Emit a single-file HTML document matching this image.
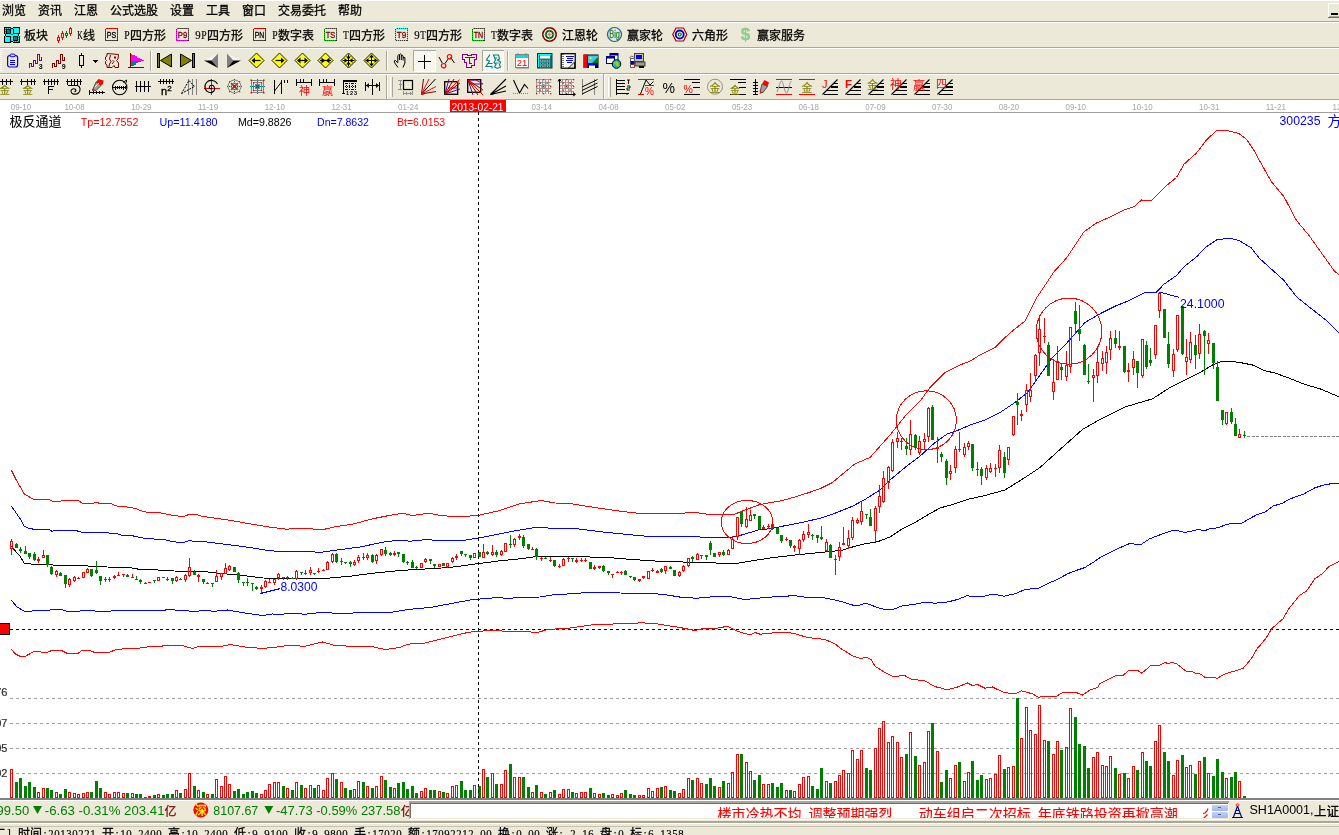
<!DOCTYPE html><html><head><meta charset="utf-8"><title>chart</title><style>html,body{margin:0;padding:0;background:#ECE9D8;overflow:hidden;font-family:"Liberation Sans",sans-serif}svg{display:block;will-change:transform}</style></head><body><svg width="1339" height="835" viewBox="0 0 1339 835" font-family="Liberation Sans, sans-serif"><rect x="0" y="0" width="1339" height="835" fill="#ECE9D8"/><g font-family="Liberation Sans, Noto Sans CJK SC, sans-serif" font-size="12" fill="#000" stroke="#000" stroke-width="0.26"><text x="2" y="14.6" textLength="24" lengthAdjust="spacingAndGlyphs">浏览</text><text x="38" y="14.6" textLength="24" lengthAdjust="spacingAndGlyphs">资讯</text><text x="74" y="14.6" textLength="24" lengthAdjust="spacingAndGlyphs">江恩</text><text x="110" y="14.6" textLength="48" lengthAdjust="spacingAndGlyphs">公式选股</text><text x="170" y="14.6" textLength="24" lengthAdjust="spacingAndGlyphs">设置</text><text x="206" y="14.6" textLength="24" lengthAdjust="spacingAndGlyphs">工具</text><text x="242" y="14.6" textLength="24" lengthAdjust="spacingAndGlyphs">窗口</text><text x="278" y="14.6" textLength="48" lengthAdjust="spacingAndGlyphs">交易委托</text><text x="338" y="14.6" textLength="24" lengthAdjust="spacingAndGlyphs">帮助</text></g><rect x="0" y="21" width="1339" height="1" fill="#ACA899"/><rect x="0" y="22" width="1339" height="1" fill="#fff"/><rect x="0" y="47" width="1339" height="1" fill="#ACA899"/><rect x="0" y="48" width="1339" height="1" fill="#fff"/><rect x="0" y="73" width="1339" height="1" fill="#ACA899"/><rect x="0" y="74" width="1339" height="1" fill="#fff"/><rect x="0" y="99" width="1339" height="1" fill="#ACA899"/><rect x="0" y="0" width="1339" height="1" fill="#fff"/><rect x="1328" y="3" width="1" height="14" fill="#fff"/><rect x="1328" y="3" width="11" height="1" fill="#fff"/><rect x="1329" y="16" width="10" height="1" fill="#ACA899"/><rect x="1328" y="17" width="11" height="1" fill="#716F64"/><rect x="1331" y="13" width="7" height="2" fill="#000"/><g transform="translate(4,27)" ><g shape-rendering="crispEdges"><path d="M0.5 0.5h6l1.500 1.500 1.500-1.500h6v6l-1.500 1.500 1.500 1.500v6h-6l-1.500-1.500-1.500 1.500h-6v-6l1.500-1.500-1.500-1.500z" fill="#00FFFF" stroke="#000" stroke-width="1"/><rect x="2.500" y="2.500" width="4" height="4" fill="#008080" stroke="#000"/><rect x="9.500" y="9.500" width="4" height="4" fill="#008080" stroke="#000"/><path d="M9.500 6.500v-5M9.500 6.500h5M6.500 9.500h-5M6.500 9.500v5" stroke="#000" fill="none"/><path d="M1.500 1.500h6M1.500 1.500v6M14.500 14.500h-6M14.500 14.500v-6M7.500 7.500l2 2M8.500 7.500l-2 2" stroke="#008080" stroke-dasharray="1 1" fill="none"/></g></g><text x="24" y="39.6" font-size="12" fill="#000" stroke="#000" stroke-width="0.26" font-family="Liberation Sans, Noto Sans CJK SC, sans-serif" textLength="24" lengthAdjust="spacingAndGlyphs">板块</text><g transform="translate(56,26)" ><g shape-rendering="crispEdges"><path d="M2.5 9V11M2.5 15V17" stroke="#f00" stroke-width="1"/><rect x="1.5" y="11.5" width="2" height="3" fill="none" stroke="#f00"/><path d="M6.5 5V7M6.5 12V14" stroke="#f00" stroke-width="1"/><rect x="5.5" y="7.5" width="2" height="4" fill="none" stroke="#f00"/><path d="M10.5 5V7M10.5 10V12" stroke="#008000" stroke-width="1"/><rect x="9.500" y="7.5" width="2" height="2" fill="none" stroke="#008000"/><path d="M14.5 1V2M14.5 8V10" stroke="#f00" stroke-width="1"/><rect x="13.5" y="2.5" width="2" height="5" fill="none" stroke="#f00"/></g></g><text x="80.00" y="38.80" font-size="11.5" text-anchor="middle" fill="#000" font-family="Liberation Serif" stroke="#000" stroke-width="0.18" textLength="5.4" lengthAdjust="spacingAndGlyphs">K</text><text x="83" y="39.6" font-size="12" fill="#000" stroke="#000" stroke-width="0.26" font-family="Liberation Sans, Noto Sans CJK SC, sans-serif">线</text><g transform="translate(105,28)" ><rect x="0.5" y="0.5" width="12" height="12" fill="#ECE9D8" stroke="#f00" stroke-dasharray="1 1" shape-rendering="crispEdges"/><rect x="0.5" y="0.5" width="12" height="12" fill="none" stroke="#000" stroke-dasharray="1 1" stroke-dashoffset="1" shape-rendering="crispEdges" opacity="0.75"/><text x="6.500" y="10" font-family="Liberation Sans" font-size="8.500" text-anchor="middle" fill="#000" stroke="#000" stroke-width="0.3" textLength="9.500" lengthAdjust="spacingAndGlyphs">PS</text></g><text x="127.00" y="38.80" font-size="11.5" text-anchor="middle" fill="#000" font-family="Liberation Serif" stroke="#000" stroke-width="0.18" textLength="5.4" lengthAdjust="spacingAndGlyphs">P</text><text x="130" y="39.6" font-size="12" fill="#000" stroke="#000" stroke-width="0.26" font-family="Liberation Sans, Noto Sans CJK SC, sans-serif" textLength="36" lengthAdjust="spacingAndGlyphs">四方形</text><g transform="translate(176,28)" ><rect x="0.5" y="0.5" width="12" height="12" fill="#ECE9D8" stroke="#f0f" stroke-dasharray="1 1" shape-rendering="crispEdges"/><rect x="0.5" y="0.5" width="12" height="12" fill="none" stroke="#000" stroke-dasharray="1 1" stroke-dashoffset="1" shape-rendering="crispEdges" opacity="0.75"/><text x="6.500" y="10" font-family="Liberation Sans" font-size="8.500" text-anchor="middle" fill="#800000" stroke="#800000" stroke-width="0.3" textLength="9.500" lengthAdjust="spacingAndGlyphs">P9</text></g><text x="198.00" y="38.80" font-size="11.5" text-anchor="middle" fill="#000" font-family="Liberation Serif" stroke="#000" stroke-width="0.18" textLength="5.4" lengthAdjust="spacingAndGlyphs">9</text><text x="204.00" y="38.80" font-size="11.5" text-anchor="middle" fill="#000" font-family="Liberation Serif" stroke="#000" stroke-width="0.18" textLength="5.4" lengthAdjust="spacingAndGlyphs">P</text><text x="207" y="39.6" font-size="12" fill="#000" stroke="#000" stroke-width="0.26" font-family="Liberation Sans, Noto Sans CJK SC, sans-serif" textLength="36" lengthAdjust="spacingAndGlyphs">四方形</text><g transform="translate(253,28)" ><rect x="0.5" y="0.5" width="12" height="12" fill="#ECE9D8" stroke="#f00" stroke-dasharray="1 1" shape-rendering="crispEdges"/><rect x="0.5" y="0.5" width="12" height="12" fill="none" stroke="#000" stroke-dasharray="1 1" stroke-dashoffset="1" shape-rendering="crispEdges" opacity="0.75"/><text x="6.500" y="10" font-family="Liberation Sans" font-size="8.500" text-anchor="middle" fill="#000" stroke="#000" stroke-width="0.3" textLength="9.500" lengthAdjust="spacingAndGlyphs">PN</text></g><text x="275.00" y="38.80" font-size="11.5" text-anchor="middle" fill="#000" font-family="Liberation Serif" stroke="#000" stroke-width="0.18" textLength="5.4" lengthAdjust="spacingAndGlyphs">P</text><text x="278" y="39.6" font-size="12" fill="#000" stroke="#000" stroke-width="0.26" font-family="Liberation Sans, Noto Sans CJK SC, sans-serif" textLength="36" lengthAdjust="spacingAndGlyphs">数字表</text><g transform="translate(324,28)" ><rect x="0.5" y="0.5" width="12" height="12" fill="#ECE9D8" stroke="#0c0" stroke-dasharray="1 1" shape-rendering="crispEdges"/><rect x="0.5" y="0.5" width="12" height="12" fill="none" stroke="#000" stroke-dasharray="1 1" stroke-dashoffset="1" shape-rendering="crispEdges" opacity="0.75"/><text x="6.500" y="10" font-family="Liberation Sans" font-size="8.500" text-anchor="middle" fill="#800000" stroke="#800000" stroke-width="0.3" textLength="9.500" lengthAdjust="spacingAndGlyphs">TS</text></g><text x="346.00" y="38.80" font-size="11.5" text-anchor="middle" fill="#000" font-family="Liberation Serif" stroke="#000" stroke-width="0.18" textLength="5.4" lengthAdjust="spacingAndGlyphs">T</text><text x="349" y="39.6" font-size="12" fill="#000" stroke="#000" stroke-width="0.26" font-family="Liberation Sans, Noto Sans CJK SC, sans-serif" textLength="36" lengthAdjust="spacingAndGlyphs">四方形</text><g transform="translate(395,28)" ><rect x="0.5" y="0.5" width="12" height="12" fill="#ECE9D8" stroke="#0ff" stroke-dasharray="1 1" shape-rendering="crispEdges"/><rect x="0.5" y="0.5" width="12" height="12" fill="none" stroke="#000" stroke-dasharray="1 1" stroke-dashoffset="1" shape-rendering="crispEdges" opacity="0.75"/><text x="6.500" y="10" font-family="Liberation Sans" font-size="8.500" text-anchor="middle" fill="#800000" stroke="#800000" stroke-width="0.3" textLength="9.500" lengthAdjust="spacingAndGlyphs">T9</text></g><text x="417.00" y="38.80" font-size="11.5" text-anchor="middle" fill="#000" font-family="Liberation Serif" stroke="#000" stroke-width="0.18" textLength="5.4" lengthAdjust="spacingAndGlyphs">9</text><text x="423.00" y="38.80" font-size="11.5" text-anchor="middle" fill="#000" font-family="Liberation Serif" stroke="#000" stroke-width="0.18" textLength="5.4" lengthAdjust="spacingAndGlyphs">T</text><text x="426" y="39.6" font-size="12" fill="#000" stroke="#000" stroke-width="0.26" font-family="Liberation Sans, Noto Sans CJK SC, sans-serif" textLength="36" lengthAdjust="spacingAndGlyphs">四方形</text><g transform="translate(472,28)" ><rect x="0.5" y="0.5" width="12" height="12" fill="#ECE9D8" stroke="#0c0" stroke-dasharray="1 1" shape-rendering="crispEdges"/><rect x="0.5" y="0.5" width="12" height="12" fill="none" stroke="#000" stroke-dasharray="1 1" stroke-dashoffset="1" shape-rendering="crispEdges" opacity="0.75"/><text x="6.500" y="10" font-family="Liberation Sans" font-size="8.500" text-anchor="middle" fill="#800000" stroke="#800000" stroke-width="0.3" textLength="9.500" lengthAdjust="spacingAndGlyphs">TN</text></g><text x="494.00" y="38.80" font-size="11.5" text-anchor="middle" fill="#000" font-family="Liberation Serif" stroke="#000" stroke-width="0.18" textLength="5.4" lengthAdjust="spacingAndGlyphs">T</text><text x="497" y="39.6" font-size="12" fill="#000" stroke="#000" stroke-width="0.26" font-family="Liberation Sans, Noto Sans CJK SC, sans-serif" textLength="36" lengthAdjust="spacingAndGlyphs">数字表</text><g transform="translate(542,27)" ><circle cx="7.5" cy="7.5" r="6.7" fill="none" stroke="#800000" stroke-width="1.6"/><circle cx="7.5" cy="7.5" r="3.6" fill="none" stroke="#006000" stroke-width="1.8"/><circle cx="7.5" cy="7.5" r="1.3" fill="#c66"/><path d="M7.5 0.5v14M0.5 7.5h14" stroke="#999" stroke-width="0.6"/></g><text x="562" y="39.6" font-size="12" fill="#000" stroke="#000" stroke-width="0.26" font-family="Liberation Sans, Noto Sans CJK SC, sans-serif" textLength="36" lengthAdjust="spacingAndGlyphs">江恩轮</text><g transform="translate(607,27)" ><circle cx="7.5" cy="7.5" r="7" fill="#E8ECEC" stroke="#1C5C9C" stroke-width="1.2"/><text x="7.6" y="10.6" font-family="Liberation Sans" font-size="10" text-anchor="middle" fill="#2E8B2E" stroke="#2E8B2E" stroke-width="0.35" textLength="10.500" lengthAdjust="spacingAndGlyphs">Big</text></g><text x="627" y="39.6" font-size="12" fill="#000" stroke="#000" stroke-width="0.26" font-family="Liberation Sans, Noto Sans CJK SC, sans-serif" textLength="36" lengthAdjust="spacingAndGlyphs">赢家轮</text><g transform="translate(672,27)" ><path d="M0.7 7.5L4 1h7.5l3.3 6.5-3.3 6.5H4z" fill="none" stroke="#B00000" stroke-width="1.2"/><circle cx="7.7" cy="7.5" r="4" fill="none" stroke="#0000D0" stroke-width="1.8"/><circle cx="7.7" cy="7.5" r="1.5" fill="none" stroke="#008000" stroke-width="1.2"/></g><text x="692" y="39.6" font-size="12" fill="#000" stroke="#000" stroke-width="0.26" font-family="Liberation Sans, Noto Sans CJK SC, sans-serif" textLength="36" lengthAdjust="spacingAndGlyphs">六角形</text><g transform="translate(740,26)" ><text x="5.5" y="14" font-family="Liberation Sans" font-weight="bold" font-size="17" text-anchor="middle" fill="#8FD08F" stroke="#7CC47C" stroke-width="0.3">$</text></g><text x="757" y="39.6" font-size="12" fill="#000" stroke="#000" stroke-width="0.26" font-family="Liberation Sans, Noto Sans CJK SC, sans-serif" textLength="48" lengthAdjust="spacingAndGlyphs">赢家服务</text><path d="M1 50v22" stroke="#fff" stroke-width="2" stroke-dasharray="1 1" shape-rendering="crispEdges"/><g transform="translate(7,53.5)" ><rect x="0.6" y="2.1" width="10" height="11.4" rx="2" fill="none" stroke="#00f" stroke-width="1.2"/><rect x="3.2" y="0.6" width="4.8" height="2.6" rx="1" fill="#ECE9D8" stroke="#00f" stroke-width="1"/><path d="M3 6.5h5M3 8.5h5M3 10.5h5" stroke="#00f" stroke-width="1" shape-rendering="crispEdges"/></g><g transform="translate(29,53)" ><path d="M0.5 14.5V10.5H2.5V13.5H4.5V7.5H6.5V10.5H8.5V1.5H10.5V7.5H12.5V3.5" fill="none" stroke="#800080" stroke-width="1" shape-rendering="crispEdges"/><text x="11.6" y="16" font-family="Liberation Sans" font-weight="bold" font-size="7" text-anchor="middle" fill="#000">3</text></g><g transform="translate(52,53)" ><path d="M0.5 14.5V10.5H2.5V13.5H4.5V7.5H6.5V10.5H8.5V1.5H10.5V7.5H12.5V3.5" fill="none" stroke="#800000" stroke-width="1" shape-rendering="crispEdges"/><text x="11.6" y="16" font-family="Liberation Sans" font-weight="bold" font-size="7" text-anchor="middle" fill="#000">9</text></g><g transform="translate(76,53)" ><g shape-rendering="crispEdges"><path d="M5.5 0v3M5.5 12v3" stroke="#000"/><rect x="3.5" y="2.5" width="4" height="10" fill="none" stroke="#000"/><path d="M17 7h5l-2.500 3z" fill="#000"/></g></g><g transform="translate(104.5,53)" ><path d="M2.500 0.500l11.500 1-.5 4.500-1.500 1.500 2 2.500v4.500h-3.500l-1-2-2 2h-5v-2.500l-1.500-1v-2.500l1-1-1-1v-2.500l1.500-1z" fill="none" stroke="#800000" stroke-width="1"/><path d="M6 2l-1 4 1.500 2.500-1.500 2.500-.5 3M8 7l1.500 1.500-2 2.500" fill="none" stroke="#800000" stroke-width="1"/><rect x="9.500" y="3.500" width="2" height="2" fill="#800000"/></g><g transform="translate(128,53)" ><g shape-rendering="crispEdges"><path d="M2.5 0v15M0 14.5h16" stroke="#800000" fill="none"/><path d="M3 0.5l2 1.500h2v1h2v1.500h3v1h2v1h2v1H3z" fill="#FF00FF"/><path d="M3 7.500h12l-2 1h-3v1.500h-2v1.500h-2v1.500H3z" fill="#008080"/></g></g><rect x="150" y="51" width="1" height="20" fill="#ACA899"/><rect x="151" y="51" width="1" height="20" fill="#fff"/><g transform="translate(157,53)" ><rect x="0.5" y="0.5" width="2" height="14" fill="#808000" stroke="#000"/><path d="M3.5 7.5L14.5 1v13z" fill="#808000" stroke="#000" stroke-linejoin="miter"/></g><g transform="translate(180,53)" ><rect x="12.500" y="0.5" width="2" height="14" fill="#808000" stroke="#000"/><path d="M11.5 7.5L0.5 1v13z" fill="#808000" stroke="#000"/></g><g transform="translate(203.5,53)" ><path d="M0.5 7.5L14.5 0.5L8 7.5z" fill="#F4F4F4"/><path d="M14.5 0.5V15L8 7.5z" fill="#808080"/><path d="M0.5 7.5H8L14.5 15z" fill="#000"/></g><g transform="translate(226.5,53)" ><path d="M14.5 7.5L0.5 0.5L7 7.5z" fill="#F4F4F4"/><path d="M0.5 0.5V15L7 7.5z" fill="#808080"/><path d="M14.5 7.5H7L0.5 15z" fill="#000"/></g><g transform="translate(256.5,60.5)" ><path d="M0 -7.5L7.5 0L0 7.5L-7.5 0z" fill="#FFFF00" stroke="#000" stroke-width="0.9"/><path d="M-4 0h8" stroke="#000" stroke-width="1.2"/><path d="M-5 0l3.5-3v6z" fill="#000"/></g><g transform="translate(279.5,60.5)" ><path d="M0 -7.5L7.5 0L0 7.5L-7.5 0z" fill="#FFFF00" stroke="#000" stroke-width="0.9"/><path d="M-4 0h8" stroke="#000" stroke-width="1.2"/><path d="M5 0l-3.5-3v6z" fill="#000"/></g><g transform="translate(302.5,60.5)" ><path d="M0 -7.5L7.5 0L0 7.5L-7.5 0z" fill="#FFFF00" stroke="#000" stroke-width="0.9"/><path d="M0 -6v12" stroke="#ddd" stroke-dasharray="1 1"/><path d="M-3 0h6" stroke="#000" stroke-width="1.2"/><path d="M-5.5 0l3.5-3v6zM5.5 0l-3.5-3v6z" fill="#000"/></g><g transform="translate(325.5,60.5)" ><path d="M0 -7.5L7.5 0L0 7.5L-7.5 0z" fill="#FFFF00" stroke="#000" stroke-width="0.9"/><path d="M0 -5v10" stroke="#ddd" stroke-dasharray="1 1"/><path d="M-5.5 0h11" stroke="#000" stroke-width="1.2"/><path d="M-0.5 0l-3.5-3v6zM0.5 0l3.5-3v6z" fill="#000"/></g><g transform="translate(348.5,60.5)" ><path d="M0 -7.5L7.5 0L0 7.5L-7.5 0z" fill="#FFFF00" stroke="#000" stroke-width="0.9"/><path d="M-6 0h12M0 -6v12" stroke="#000" stroke-width="1"/><path d="M0 -1l-2.500-3h5zM0 1l-2.500 3h5zM-1 0l-3-2.500v5zM1 0l3-2.500v5z" fill="#000"/></g><g transform="translate(371.5,60.5)" ><path d="M0 -7.5L7.5 0L0 7.5L-7.5 0z" fill="#FFFF00" stroke="#000" stroke-width="0.9"/><path d="M-6 0h12M0 -5v10" stroke="#000" stroke-width="1"/><path d="M0 -6l-2.500 3h5zM0 6l-2.500-3h5zM-6 0l3-2.500v5zM6 0l-3-2.500v5z" fill="#000"/></g><rect x="386" y="51" width="1" height="20" fill="#ACA899"/><rect x="387" y="51" width="1" height="20" fill="#fff"/><g transform="translate(393.5,53)" ><path d="M4.500 14.500L1.300 10 0.800 7.800 2 7.500 4.300 9.800V2.500l.8-.7.900.7V7M6 3V1.500l.9-.7.900.7V7M7.800 2.800l.9-.6.900.7V7.500M9.600 4.600l.9-.5.900.7v5.200l-1.900 4.500" fill="none" stroke="#000" stroke-width="1" stroke-linejoin="round"/></g><g transform="translate(413,50)" ><rect x="0" y="0" width="23" height="21" fill="#F7F6EF"/><path d="M0.5 21V0.5H23" fill="none" stroke="#ACA899"/><path d="M22.5 1v20.500H1" fill="none" stroke="#fff"/><path d="M5 11.500h13M11.500 5v13.500" stroke="#000" stroke-width="1" shape-rendering="crispEdges"/></g><g transform="translate(439,53)" ><path d="M0 4l3.200 6M6 10.500l3.500-5M11.500 4.500l4 5.500" stroke="#000" stroke-width="1"/><circle cx="4.6" cy="12.7" r="2.2" fill="none" stroke="#f00" stroke-width="1.2"/><circle cx="10.5" cy="3.7" r="2.2" fill="none" stroke="#f00" stroke-width="1.2"/></g><g transform="translate(462,53)" ><path d="M0.500 1.500H5.500V2.500H9.500V1.500H14.500V6.500H12.500V12.500H9.500V14.500H4.500V9.500H2.500V6.500H0.500ZM2.500 4.500H12.500M7.500 5V10.500H9.500" fill="none" stroke="#800080" stroke-width="1.200" shape-rendering="crispEdges"/></g><g transform="translate(482,50)" ><rect x="0" y="0" width="22" height="21" fill="#F7F6EF"/><path d="M0.5 21V0.5H22" fill="none" stroke="#ACA899"/><path d="M21.5 1v20.500H1" fill="none" stroke="#fff"/><g transform="translate(3.5,4)"><path d="M4.5 0.5L1 6l3 1-3.500 5.500h6v2M8 1h5l1 4-2 1 3 2-1 3 1 2-3 1.500-3-1.500 1.500-2.500-2-2 1.500-2.500zM3 9.500h4M2 12.500h5M9.500 4h2M10 9h3" fill="none" stroke="#008080" stroke-width="1.1"/></g></g><rect x="507" y="51" width="1" height="20" fill="#ACA899"/><rect x="508" y="51" width="1" height="20" fill="#fff"/><g transform="translate(515,53)" ><rect x="1" y="2.5" width="13" height="13" fill="#808080"/><rect x="0.5" y="1.5" width="13" height="13" fill="#fff" stroke="#808080"/><rect x="1" y="2" width="12" height="3" fill="#00E0E0"/><path d="M3 0v3M11 0v3" stroke="#888"/><text x="7" y="13" font-family="Liberation Sans" font-size="9.5" text-anchor="middle" fill="#f00">21</text></g><g transform="translate(537,53)" ><rect x="0.5" y="0.5" width="14.5" height="14.5" fill="#008080" stroke="#004040"/><path d="M1.5 14V1.5H14" stroke="#00FFFF" fill="none"/><rect x="3" y="2.5" width="10" height="3" fill="#fff"/><rect x="3.0" y="7.0" width="2.6" height="1.8" fill="#C0C0C0"/><rect x="3.8" y="7.4" width="1.200" height="1" fill="#202020"/><rect x="6.6" y="7.0" width="2.6" height="1.8" fill="#C0C0C0"/><rect x="7.4" y="7.4" width="1.200" height="1" fill="#202020"/><rect x="10.2" y="7.0" width="2.6" height="1.8" fill="#C0C0C0"/><rect x="11.0" y="7.4" width="1.200" height="1" fill="#202020"/><rect x="3.0" y="9.7" width="2.6" height="1.8" fill="#C0C0C0"/><rect x="3.8" y="10.100000000000001" width="1.200" height="1" fill="#202020"/><rect x="6.6" y="9.7" width="2.6" height="1.8" fill="#C0C0C0"/><rect x="7.4" y="10.100000000000001" width="1.200" height="1" fill="#202020"/><rect x="10.2" y="9.7" width="2.6" height="1.8" fill="#C0C0C0"/><rect x="11.0" y="10.100000000000001" width="1.200" height="1" fill="#202020"/><rect x="3.0" y="12.4" width="2.6" height="1.8" fill="#C0C0C0"/><rect x="3.8" y="12.8" width="1.200" height="1" fill="#202020"/><rect x="6.6" y="12.4" width="2.6" height="1.8" fill="#C0C0C0"/><rect x="7.4" y="12.8" width="1.200" height="1" fill="#202020"/><rect x="10.2" y="12.4" width="2.6" height="1.8" fill="#C0C0C0"/><rect x="11.0" y="12.8" width="1.200" height="1" fill="#202020"/></g><g transform="translate(560.5,53)" ><rect x="0.7" y="0.7" width="14" height="14.5" fill="#fff" stroke="#000" stroke-width="1.3"/><path d="M2.5 1v14" stroke="#000" stroke-dasharray="1 1"/><path d="M5 3.500h8M6 5.500h6M5 7.500h7M6 9.500h5" stroke="#00f" stroke-width="1" shape-rendering="crispEdges"/><path d="M8 15l6-6v6z" fill="#ddd" stroke="#000" stroke-width="0.8"/></g><g transform="translate(583,53)" ><rect x="0.5" y="1.5" width="15" height="13.5" fill="#000"/><rect x="0.5" y="1.5" width="4" height="13.500" fill="#f00"/><rect x="5" y="2.500" width="10" height="7.500" fill="#40C8F0"/><path d="M9 10l6-6v6z" fill="#008000"/><rect x="5" y="10" width="10" height="2" fill="#00f"/><rect x="6" y="12.5" width="6" height="2.5" fill="#fff"/><circle cx="7.500" cy="5" r="1" fill="#ff0"/></g><g transform="translate(606,53)" ><rect x="4" y="0.5" width="8" height="7" fill="#fff" stroke="#000080"/><rect x="4" y="0.5" width="8" height="2" fill="#000080"/><rect x="0.5" y="3.5" width="8" height="7" fill="#fff" stroke="#000080"/><rect x="0.5" y="3.500" width="8" height="2" fill="#000080"/><circle cx="10.500" cy="11" r="4.300" fill="#00C0C0" stroke="#000"/><path d="M8 10l2-2 2 1 1 3-2 2-1-2z" fill="#C0C000"/></g><g transform="translate(629,53)" ><rect x="5.500" y="0.500" width="9" height="8" fill="#C8C8A0" stroke="#404040"/><rect x="7" y="2" width="6" height="4" fill="#00f"/><rect x="6" y="9" width="10" height="4" fill="#A0A080" stroke="#404040"/><rect x="10" y="13" width="5" height="2" fill="#000"/><rect x="1.500" y="5.500" width="4" height="9" fill="#fff" stroke="#606060"/><rect x="1.500" y="8" width="4" height="3" fill="#00c"/><rect x="2" y="11" width="3" height="1" fill="#f00"/><path d="M0.500 5l2-2 2 1" stroke="#606060" fill="none"/></g><g transform="translate(-3,79)" ><path d="M0 2.5h16M5.5 0v5.500M9.500 0v5.500M13.500 0v5.500" stroke="#000" fill="none" shape-rendering="crispEdges"/><text x="2.5" y="15" font-size="10.5" fill="#808000" stroke="#808000" stroke-width="0.12" font-family="Liberation Sans, Noto Sans CJK SC, sans-serif">金</text></g><g transform="translate(20,79)" ><path d="M0 2.5h16M1.5 0v5.500M7.500 0v5.500M11.500 0v5.500M14.500 0v5.500" stroke="#000" fill="none" shape-rendering="crispEdges"/><text x="2.5" y="15" font-size="10.5" fill="#808000" stroke="#808000" stroke-width="0.12" font-family="Liberation Sans, Noto Sans CJK SC, sans-serif">金</text></g><g transform="translate(43,79)" ><path d="M0 2.5h16M1.5 0v5.500M5.500 0v5.500M8.500 0v5.500M11.500 0v5.500M14.500 0v5.500" stroke="#000" fill="none" shape-rendering="crispEdges"/><path d="M5.500 14.500v-7h5M5.500 10.500h4" stroke="#000" fill="none" shape-rendering="crispEdges"/></g><g transform="translate(66,79)" ><path d="M0 2.5h16M1.5 0v5.500M5.500 0v5.500M8.500 0v5.500M11.500 0v5.500M14.500 0v5.500" stroke="#000" fill="none" shape-rendering="crispEdges"/><path d="M2 6.500h9.500c3 1 3.500 5 1 7.500-2.500 2-7 1.500-7.500-1.500-.3-2.500 3-3.500 4.500-2 1 1 .2 2.400-1.200 2.200" stroke="#000" fill="none" stroke-width="1.100"/></g><g transform="translate(89,79)" ><path d="M0 13.500h16M0.500 11v5M4.500 12v3M7.500 12v3M10.500 12v3M13.500 12v3" stroke="#000" fill="none" shape-rendering="crispEdges"/><path d="M3.500 11l3.500-8 5 3.500-5 5z" fill="#A0A0A0" stroke="#333" stroke-width="0.800"/><path d="M7 3l2.500-3 5 1.500-.5 3.500-2 1.500z" fill="#f00"/><path d="M3 12l1-2.500 2 1.500z" fill="#f00"/><path d="M6 8l4-4" stroke="#eee" stroke-width="1"/></g><g transform="translate(112,79)" ><circle cx="7.700" cy="8.500" r="7.200" fill="none" stroke="#000" stroke-width="1.100"/><path d="M1 8.500h14M3.500 6.500v4M5.500 7v3M7.500 7v3M9.500 7v3M11.500 6.500v4M13.500 7v3" stroke="#000" fill="none" shape-rendering="crispEdges"/><path d="M11 3.500l3.500-2.500M14.500 1v2.500" stroke="#000" fill="none"/></g><g transform="translate(135,79)" ><path d="M0 7.500h16M1.500 2v11M5.500 2v11M9.500 2v11M13.500 2v11" stroke="#000" fill="none" shape-rendering="crispEdges"/></g><g transform="translate(158,79)" ><path d="M0 2.500h16M2.500 0v4.500M5.500 0v4.500M8.500 0v4.500M11.500 0v4.500M14.500 0v4.500" stroke="#000" fill="none" shape-rendering="crispEdges"/><text x="3" y="15.500" font-family="Liberation Sans" font-size="11" fill="#000" stroke="#000" stroke-width="0.35">n</text><text x="9.300" y="12" font-family="Liberation Sans" font-size="8" fill="#000" stroke="#000" stroke-width="0.3">2</text></g><g transform="translate(181,79)" ><path d="M7.500 0v16M11.500 0v16M15.500 0v16" stroke="#808080" shape-rendering="crispEdges"/><path d="M0.500 14.500L8 1.500l5.500 6z" fill="none" stroke="#000" stroke-dasharray="2 1" stroke-width="1"/></g><g transform="translate(204,79)" ><path d="M0 9.500h16M7.500 0v16" stroke="#f00" shape-rendering="crispEdges"/><path d="M13.500 5c-2-4-8-5-11-1.500-3 3.500-1.500 9 3 10 4 .8 6.500-3 4.500-6-1.500-2-4.500-1.500-4.700.7-.1 1.600 1.700 2.100 2.700 1" stroke="#000" fill="none" stroke-width="1.100"/></g><g transform="translate(227,79)" ><circle cx="7.500" cy="7.500" r="3.500" fill="none" stroke="#808080"/><circle cx="7.500" cy="7.500" r="6.500" fill="none" stroke="#808080"/><path d="M0 7.500h15M7.500 0v15" stroke="#f00" stroke-dasharray="1 1"/><path d="M4 4l7 7M11 4l-7 7" stroke="#008080" stroke-width="1.300"/><path d="M5.500 5.500l4 4M9.500 5.500l-4 4" stroke="#f00" stroke-width="1.300"/><g fill="#008080"><rect x="2" y="2" width="1.300" height="1.300"/><rect x="12" y="2" width="1.300" height="1.300"/><rect x="2" y="12" width="1.300" height="1.300"/><rect x="12" y="12" width="1.300" height="1.300"/></g></g><g transform="translate(250,79)" ><rect x="1.500" y="1.500" width="12" height="12" fill="none" stroke="#808080"/><rect x="3.500" y="3.500" width="8" height="8" fill="none" stroke="#808080"/><rect x="5.500" y="5.500" width="4" height="4" fill="#C08080" stroke="#808080"/><path d="M0 7.500h15M7.500 0v15" stroke="#008080" stroke-dasharray="1 1"/><path d="M6 6l3 3M9 6l-3 3" stroke="#f00"/><g fill="#f00"><rect x="0.500" y="0.500" width="1.500" height="1.500"/><rect x="13" y="0.500" width="1.500" height="1.500"/><rect x="0.500" y="13" width="1.500" height="1.500"/><rect x="13" y="13" width="1.500" height="1.500"/><rect x="3" y="3" width="1.200" height="1.200"/><rect x="11" y="3" width="1.200" height="1.200"/><rect x="3" y="11" width="1.200" height="1.200"/><rect x="11" y="11" width="1.200" height="1.200"/></g></g><g transform="translate(273,79)" ><path d="M1.500 1v14M8.500 1v14" stroke="#000" shape-rendering="crispEdges"/><path d="M1.500 12l7-9" stroke="#000" fill="none"/><path d="M11.500 1v3M14.500 1v3" stroke="#000" shape-rendering="crispEdges"/></g><g transform="translate(296,79)" ><path d="M0 3.500h16M0.500 0v7M4.500 0v4M7.500 0v4M15.500 0v7" stroke="#000" fill="none" shape-rendering="crispEdges"/><text x="3" y="15.5" font-size="11" fill="#f00" font-family="Liberation Sans, Noto Sans CJK SC, sans-serif">神</text></g><g transform="translate(319,79)" ><path d="M0 3.500h16M0.500 0v7M4.500 0v4M7.500 0v4M15.500 0v7" stroke="#000" fill="none" shape-rendering="crispEdges"/><text x="3" y="15.5" font-size="11" fill="#f00" font-family="Liberation Sans, Noto Sans CJK SC, sans-serif">赢</text></g><g transform="translate(342,79)" ><path d="M1 1.500h14" stroke="#000" stroke-width="2" shape-rendering="crispEdges"/><path d="M1.500 1v14M0 14.500h3" stroke="#000" shape-rendering="crispEdges"/><path d="M3 4.500h12M3 7.500h12M3 10.500h12" stroke="#000" stroke-dasharray="1 1" shape-rendering="crispEdges"/><path d="M4.500 2v9M7.500 2v9M10.500 2v9M13.500 2v9" stroke="#000" stroke-dasharray="1 1" shape-rendering="crispEdges"/><text x="4" y="16" font-family="Liberation Sans" font-weight="bold" font-size="5.500" fill="#000" textLength="11">123</text></g><g transform="translate(365,79)" ><path d="M0.500 3v9M7.500 0v16M14.500 3v9M0 6.500h15" stroke="#000" fill="none" shape-rendering="crispEdges"/><path d="M1 6.500l3-2.500v5zM14 6.500l-3-2.500v5z" fill="#000"/></g><rect x="386" y="75" width="1" height="24" fill="#ACA899"/><rect x="387" y="75" width="1" height="24" fill="#fff"/><path d="M390.500 77v20" stroke="#fff"/><path d="M392.500 77v20" stroke="#ACA899"/><path d="M391.500 77v20" stroke="#ECE9D8"/><g transform="translate(398,79)" ><rect x="5.500" y="1.500" width="9" height="9" fill="none" stroke="#000" stroke-width="1.200"/><path d="M0 1.500h4M0 10.500h4M2.500 2v8M5.500 12v4M14.500 12v4M6 14.500h8" stroke="#909090" fill="none" shape-rendering="crispEdges"/><path d="M1 5.500h3M8 13v3M12 13v3" stroke="#909090" shape-rendering="crispEdges"/></g><g transform="translate(421,79)" ><path d="M0.500 15L2.500 0" stroke="#800000"/><path d="M0.500 15L8 0M0.500 15L15 7.500" stroke="#f00"/><path d="M0.500 15L14.500 0" stroke="#000"/><path d="M0.500 15L15 12.500" stroke="#800000"/><rect x="0" y="13.500" width="2.500" height="2.500" fill="#f00"/></g><g transform="translate(444,79)" ><rect x="0.700" y="2.700" width="13" height="12.600" fill="none" stroke="#000" stroke-width="1.300"/><path d="M1 15L5 0M4 9h10M1 15l15-5" stroke="#800080"/><path d="M1 15L10 0M1 15L16 4" stroke="#800000"/><path d="M1 15L15.500 0.500" stroke="#f00" stroke-width="1"/></g><g transform="translate(467,79)" ><rect x="0.700" y="0.700" width="13" height="12.600" fill="none" stroke="#000" stroke-width="1.300"/><path d="M1 1l5 15M2 5h13.500M1 1h8l7 4" stroke="#800080" fill="none"/><path d="M1 1l10 15M1 1l15 10" stroke="#800000"/><path d="M1 1l15 15" stroke="#f00" stroke-width="1"/></g><g transform="translate(490,79)" ><path d="M0.500 15.500L16 0M0.500 15.500L16 7M0.500 15.500L16 12" stroke="#000" fill="none" stroke-width="1.100"/><path d="M0 16l3.500-.5-2-2z" fill="#000"/></g><g transform="translate(513,79)" ><path d="M0.500 1L6.500 14l5-8.500 3.500 4" stroke="#000" fill="none" stroke-width="1.100"/><path d="M0 14.500h16" stroke="#808080" stroke-dasharray="1 1" shape-rendering="crispEdges"/></g><g transform="translate(536,79)" ><rect x="0" y="0" width="15" height="15" fill="#F2F0E6"/><path d="M0 0.500h15M0 3.500h15M0 6.500h15M0 9.500h15M0 12.500h15M0.500 0v15M3.500 0v15M6.500 0v15M9.500 0v15M12.500 0v15" stroke="#9A9A9A" shape-rendering="crispEdges"/><g fill="#f00"><rect x="0.0" y="0.0" width="1.300" height="1.300"/><rect x="0.0" y="7.0" width="1.300" height="1.300"/><rect x="0.0" y="14.0" width="1.300" height="1.300"/><rect x="3.5" y="3.5" width="1.300" height="1.300"/><rect x="3.5" y="10.5" width="1.300" height="1.300"/><rect x="7.0" y="0.0" width="1.300" height="1.300"/><rect x="7.0" y="7.0" width="1.300" height="1.300"/><rect x="7.0" y="14.0" width="1.300" height="1.300"/><rect x="10.5" y="3.5" width="1.300" height="1.300"/><rect x="10.5" y="10.5" width="1.300" height="1.300"/><rect x="14.0" y="0.0" width="1.300" height="1.300"/><rect x="14.0" y="7.0" width="1.300" height="1.300"/><rect x="14.0" y="14.0" width="1.300" height="1.300"/></g><circle cx="7.500" cy="7.500" r="1.800" fill="none" stroke="#808080"/></g><g transform="translate(559,79)" ><rect x="0" y="0" width="15" height="15" fill="#F2F0E6"/><path d="M0 0.500h15M0 3.500h15M0 6.500h15M0 9.500h15M0 12.500h15M0.500 0v15M3.500 0v15M6.500 0v15M9.500 0v15M12.500 0v15" stroke="#9A9A9A" shape-rendering="crispEdges"/><g fill="#f00"><rect x="0.0" y="0.0" width="1.300" height="1.300"/><rect x="0.0" y="7.0" width="1.300" height="1.300"/><rect x="0.0" y="14.0" width="1.300" height="1.300"/><rect x="3.5" y="3.5" width="1.300" height="1.300"/><rect x="3.5" y="10.5" width="1.300" height="1.300"/><rect x="7.0" y="0.0" width="1.300" height="1.300"/><rect x="7.0" y="7.0" width="1.300" height="1.300"/><rect x="7.0" y="14.0" width="1.300" height="1.300"/><rect x="10.5" y="3.5" width="1.300" height="1.300"/><rect x="10.5" y="10.5" width="1.300" height="1.300"/><rect x="14.0" y="0.0" width="1.300" height="1.300"/><rect x="14.0" y="7.0" width="1.300" height="1.300"/><rect x="14.0" y="14.0" width="1.300" height="1.300"/></g><circle cx="7.500" cy="7.500" r="1.800" fill="none" stroke="#808080"/><path d="M0.500 0v15.500M0 15.500h16" stroke="#000" stroke-width="1" shape-rendering="crispEdges"/><path d="M14 13.500l2.500 2-2.500 1.500M-1 2.500l1.500-2.500 1.500 2.500" fill="none" stroke="#000"/></g><g transform="translate(582,79)" ><path d="M0.500 0v16M12.500 0v16" stroke="#808080" shape-rendering="crispEdges"/><path d="M0 8L15.500 0.500M0 11.500L15.500 4M0 15L15.500 7.500" stroke="#000" stroke-width="1"/></g><rect x="603" y="74" width="1" height="25" fill="#ACA899"/><rect x="604" y="74" width="1" height="25" fill="#fff"/><path d="M608.500 77v20" stroke="#fff"/><path d="M610.500 77v20" stroke="#ACA899"/><g transform="translate(615,79)" ><path d="M1.500 0v16M1 1.500h9M1 4.500h9M1 7.500h9M1 10.500h9M1 14.500h13" stroke="#000" fill="none" shape-rendering="crispEdges"/><path d="M12 1h3M13.500 1v4M12 7h3v2h-3v2h3M12 14v2" stroke="#000" fill="none" stroke-width="0.900"/></g><g transform="translate(638,79)" ><path d="M0 0.500h16M0 15.500h6M7 6.500h9" stroke="#f00" stroke-width="1.200" shape-rendering="crispEdges"/><path d="M2.500 15L8 1l4 5 3.500-3.500" stroke="#000" fill="none"/><text x="7" y="16" font-family="Liberation Sans" font-size="10" fill="#f00">%</text></g><g transform="translate(662,79)" ><text x="0.500" y="13.500" font-family="Liberation Sans" font-size="14" fill="#000">%</text></g><g transform="translate(684,79)" ><path d="M0 0.500h16M7.500 3.500h8.500M9 8.500h7M0 15.500h16" stroke="#000" stroke-width="1.100" shape-rendering="crispEdges"/><text x="-0.5" y="14" font-family="Liberation Sans" font-size="10.500" fill="#f00">%</text></g><g transform="translate(707,79)" ><circle cx="8" cy="7.700" r="7.500" fill="none" stroke="#909090"/><text x="2.5" y="13" font-size="11" fill="#808000" stroke="#808000" stroke-width="0.13" font-family="Liberation Sans, Noto Sans CJK SC, sans-serif">金</text></g><g transform="translate(730,79)" ><path d="M0 0.500h16M7.500 3.500h8.500M9 8.500h7M0 15.500h16" stroke="#000" stroke-width="1.100" shape-rendering="crispEdges"/><text x="0" y="14.5" font-size="10" fill="#808000" stroke="#808000" stroke-width="0.12" font-family="Liberation Sans, Noto Sans CJK SC, sans-serif">金</text></g><g transform="translate(753,79)" ><path d="M2.500 0v16M0 3.500h5M0 6.500h5M0 9.500h5M0 15.500h5M0 12.500h5" stroke="#000" shape-rendering="crispEdges"/><path d="M7 13l2-8 5.500 2.500-4.500 6z" fill="#A0A0A0" stroke="#333" stroke-width="0.800"/><path d="M9 5l2.500-4 4.500 2.500-1.500 4z" fill="#f00"/><path d="M6.500 15l.8-2.500 2.200 1z" fill="#f00"/></g><g transform="translate(776,79)" ><path d="M0 0.500h16M0 15.500h16" stroke="#f00" stroke-width="1.200" shape-rendering="crispEdges"/><path d="M0 8.500h16" stroke="#000" shape-rendering="crispEdges"/><path d="M1 13C3 8 4 2 5.500 2S8 10 9.500 13 12 12 13 8s1.500-5 2.500-6" stroke="#909090" fill="none" stroke-width="1"/></g><g transform="translate(799,79)" ><path d="M0 0.500h16M0 15.500h16" stroke="#f00" stroke-width="1.200" shape-rendering="crispEdges"/><text x="2.5" y="13" font-size="11" fill="#808000" stroke="#808000" stroke-width="0.13" font-family="Liberation Sans, Noto Sans CJK SC, sans-serif">金</text></g><g transform="translate(822,79)" ><path d="M0.500 15.500L15.500 0.500" stroke="#000" stroke-width="1.100"/><path d="M1.500 15.500h14M5 11.500h10.500M9 8h6.500M12 4.500h3.500" stroke="#000" stroke-width="1.100" shape-rendering="crispEdges"/><text x="0" y="9" font-size="11" fill="#f00" font-family="Liberation Sans" >J</text></g><g transform="translate(845,79)" ><path d="M0.500 15.500L15.500 0.500" stroke="#000" stroke-width="1.100"/><path d="M1.500 15.500h14M5 11.500h10.500M9 8h6.500M12 4.500h3.500" stroke="#000" stroke-width="1.100" shape-rendering="crispEdges"/><text x="0" y="9" font-size="11.5" fill="#f00" font-family="Liberation Sans" font-weight="bold" >F</text></g><g transform="translate(868,79)" ><path d="M0.500 15.500L15.500 0.500" stroke="#000" stroke-width="1.100"/><path d="M1.500 15.500h14M5 11.500h10.500M9 8h6.500M12 4.500h3.500" stroke="#000" stroke-width="1.100" shape-rendering="crispEdges"/><text x="-1" y="9.5" font-size="11" fill="#808000" stroke="#808000" stroke-width="0.13" font-family="Liberation Sans, Noto Sans CJK SC, sans-serif">金</text></g><g transform="translate(891,79)" ><path d="M0.500 15.500L15.500 0.500" stroke="#000" stroke-width="1.100"/><path d="M1.500 15.500h14M5 11.500h10.500M9 8h6.500M12 4.500h3.500" stroke="#000" stroke-width="1.100" shape-rendering="crispEdges"/><text x="-1" y="10" font-size="12" fill="#f00" font-family="Liberation Sans, Noto Sans CJK SC, sans-serif">神</text></g><g transform="translate(914,79)" ><path d="M0.500 15.500L15.500 0.500" stroke="#000" stroke-width="1.100"/><path d="M1.500 15.500h14M5 11.500h10.500M9 8h6.500M12 4.500h3.500" stroke="#000" stroke-width="1.100" shape-rendering="crispEdges"/><text x="-1" y="10.5" font-size="12" fill="#f00" font-family="Liberation Sans, Noto Sans CJK SC, sans-serif">赢</text></g><g transform="translate(937,79)" ><path d="M0.500 15.500L15.500 0.500" stroke="#000" stroke-width="1.100"/><path d="M1.500 15.500h14M5 11.500h10.500M9 8h6.500M12 4.500h3.500" stroke="#000" stroke-width="1.100" shape-rendering="crispEdges"/><text x="-1" y="9" font-size="11" fill="#f00" font-family="Liberation Sans, Noto Sans CJK SC, sans-serif">四</text></g><rect x="0" y="100" width="1339" height="699" fill="#fff"/><text x="10.8" y="109.7" font-size="9.5" fill="#A8A8A8" font-family="Liberation Sans" textLength="20.3" lengthAdjust="spacingAndGlyphs" >09-10</text><text x="64.4" y="109.7" font-size="9.5" fill="#A8A8A8" font-family="Liberation Sans" textLength="20.3" lengthAdjust="spacingAndGlyphs" >10-08</text><text x="131.2" y="109.7" font-size="9.5" fill="#A8A8A8" font-family="Liberation Sans" textLength="20.3" lengthAdjust="spacingAndGlyphs" >10-29</text><text x="197.9" y="109.7" font-size="9.5" fill="#A8A8A8" font-family="Liberation Sans" textLength="20.3" lengthAdjust="spacingAndGlyphs" >11-19</text><text x="264.7" y="109.7" font-size="9.5" fill="#A8A8A8" font-family="Liberation Sans" textLength="20.3" lengthAdjust="spacingAndGlyphs" >12-10</text><text x="331.4" y="109.7" font-size="9.5" fill="#A8A8A8" font-family="Liberation Sans" textLength="20.3" lengthAdjust="spacingAndGlyphs" >12-31</text><text x="398.1" y="109.7" font-size="9.5" fill="#A8A8A8" font-family="Liberation Sans" textLength="20.3" lengthAdjust="spacingAndGlyphs" >01-24</text><text x="531.6" y="109.7" font-size="9.5" fill="#A8A8A8" font-family="Liberation Sans" textLength="20.3" lengthAdjust="spacingAndGlyphs" >03-14</text><text x="598.4" y="109.7" font-size="9.5" fill="#A8A8A8" font-family="Liberation Sans" textLength="20.3" lengthAdjust="spacingAndGlyphs" >04-08</text><text x="665.1" y="109.7" font-size="9.5" fill="#A8A8A8" font-family="Liberation Sans" textLength="20.3" lengthAdjust="spacingAndGlyphs" >05-02</text><text x="731.9" y="109.7" font-size="9.5" fill="#A8A8A8" font-family="Liberation Sans" textLength="20.3" lengthAdjust="spacingAndGlyphs" >05-23</text><text x="798.6" y="109.7" font-size="9.5" fill="#A8A8A8" font-family="Liberation Sans" textLength="20.3" lengthAdjust="spacingAndGlyphs" >06-18</text><text x="865.3" y="109.7" font-size="9.5" fill="#A8A8A8" font-family="Liberation Sans" textLength="20.3" lengthAdjust="spacingAndGlyphs" >07-09</text><text x="932.1" y="109.7" font-size="9.5" fill="#A8A8A8" font-family="Liberation Sans" textLength="20.3" lengthAdjust="spacingAndGlyphs" >07-30</text><text x="998.8" y="109.7" font-size="9.5" fill="#A8A8A8" font-family="Liberation Sans" textLength="20.3" lengthAdjust="spacingAndGlyphs" >08-20</text><text x="1065.6" y="109.7" font-size="9.5" fill="#A8A8A8" font-family="Liberation Sans" textLength="20.3" lengthAdjust="spacingAndGlyphs" >09-10</text><text x="1132.3" y="109.7" font-size="9.5" fill="#A8A8A8" font-family="Liberation Sans" textLength="20.3" lengthAdjust="spacingAndGlyphs" >10-10</text><text x="1199.0" y="109.7" font-size="9.5" fill="#A8A8A8" font-family="Liberation Sans" textLength="20.3" lengthAdjust="spacingAndGlyphs" >10-31</text><text x="1265.8" y="109.7" font-size="9.5" fill="#A8A8A8" font-family="Liberation Sans" textLength="20.3" lengthAdjust="spacingAndGlyphs" >11-21</text><text x="1332.5" y="109.7" font-size="9.5" fill="#A8A8A8" font-family="Liberation Sans" textLength="20.3" lengthAdjust="spacingAndGlyphs" >12-12</text><rect x="10" y="112" width="1329" height="1" fill="#A0A0A0"/><rect x="450" y="100" width="56" height="12" fill="#f00"/><text x="451.5" y="110.5" font-size="11.5" fill="#fff" font-family="Liberation Sans" textLength="52" lengthAdjust="spacingAndGlyphs" >2013-02-21</text><text x="9.5" y="126" font-size="13" fill="#000" stroke="#000" stroke-width="0.08" font-family="Liberation Sans, Noto Sans CJK SC, sans-serif" textLength="52" lengthAdjust="spacingAndGlyphs">极反通道</text><text x="80.8" y="125.7" font-size="11.5" fill="#f00" font-family="Liberation Sans" textLength="57.7" lengthAdjust="spacingAndGlyphs" >Tp=12.7552</text><text x="159.6" y="125.7" font-size="11.5" fill="#00f" font-family="Liberation Sans" textLength="58" lengthAdjust="spacingAndGlyphs" >Up=11.4180</text><text x="238" y="125.7" font-size="11.5" fill="#000" font-family="Liberation Sans" textLength="53.5" lengthAdjust="spacingAndGlyphs" >Md=9.8826</text><text x="317" y="125.7" font-size="11.5" fill="#00f" font-family="Liberation Sans" textLength="52" lengthAdjust="spacingAndGlyphs" >Dn=7.8632</text><text x="397" y="125.7" font-size="11.5" fill="#f00" font-family="Liberation Sans" textLength="48.2" lengthAdjust="spacingAndGlyphs" >Bt=6.0153</text><text x="1279.5" y="125.3" font-size="12.5" fill="#00f" font-family="Liberation Sans" textLength="41" lengthAdjust="spacingAndGlyphs" >300235</text><text x="1327.5" y="126" font-size="14" fill="#00f" font-family="Liberation Sans, Noto Sans CJK SC, sans-serif">方</text><path d="M10 698.5H1339" stroke="#A0A0A0" stroke-dasharray="3 3" shape-rendering="crispEdges"/><text x="7.5" y="696" font-size="11" fill="#303030" font-family="Liberation Sans" text-anchor="end" stroke="#303030" stroke-width="0.2">76</text><path d="M10 723.5H1339" stroke="#A0A0A0" stroke-dasharray="3 3" shape-rendering="crispEdges"/><text x="7.5" y="727" font-size="11" fill="#303030" font-family="Liberation Sans" text-anchor="end" stroke="#303030" stroke-width="0.2">07</text><path d="M10 748.5H1339" stroke="#A0A0A0" stroke-dasharray="3 3" shape-rendering="crispEdges"/><text x="7.5" y="752" font-size="11" fill="#303030" font-family="Liberation Sans" text-anchor="end" stroke="#303030" stroke-width="0.2">05</text><path d="M10 773.5H1339" stroke="#A0A0A0" stroke-dasharray="3 3" shape-rendering="crispEdges"/><text x="7.5" y="777" font-size="11" fill="#303030" font-family="Liberation Sans" text-anchor="end" stroke="#303030" stroke-width="0.2">02</text><path d="M10 629.500H1339" stroke="#000" stroke-dasharray="3 3" shape-rendering="crispEdges"/><rect x="-0.500" y="623.500" width="10" height="11" fill="#f00" stroke="#000" shape-rendering="crispEdges"/><path d="M1247 436h3v1h-3zM1252 436h3v1h-3zM1256 436h3v1h-3zM1261 436h3v1h-3zM1265 436h3v1h-3zM1270 436h3v1h-3zM1274 436h3v1h-3zM1278 436h3v1h-3zM1283 436h3v1h-3zM1287 436h3v1h-3zM1292 436h3v1h-3zM1296 436h3v1h-3zM1301 436h3v1h-3zM1305 436h3v1h-3zM1310 436h3v1h-3zM1314 436h3v1h-3zM1319 436h3v1h-3zM1323 436h3v1h-3zM1327 436h3v1h-3zM1332 436h3v1h-3zM1336 436h3v1h-3zM1341 436h3v1h-3z" fill="#808080" shape-rendering="crispEdges"/><polyline points="11.4,470.4 16.8,481.0 24.3,494.0 33.5,499.4 48.6,499.4 52.0,501.1 60.4,501.1 62.9,500.2 78.0,500.2 82.2,503.3 93.1,503.3 95.6,502.3 99.8,503.3 110.7,503.6 117.4,506.3 124.1,506.6 134.1,508.1 142.5,511.1 147.6,512.3 159.3,512.6 169.3,514.8 179.4,516.2 184.4,516.2 189.5,514.2 195.3,514.5 200.0,515.5 201.2,516.2 225.0,519.5 250.0,523.8 267.5,526.8 286.2,529.2 305.0,528.0 321.2,530.0 335.0,526.8 352.5,524.2 372.5,518.8 387.5,515.8 402.5,513.2 412.5,515.5 428.8,513.2 440.0,515.5 457.5,516.8 477.5,515.5 500.0,510.5 510.0,507.0 520.0,503.8 541.2,500.5 555.0,503.0 567.5,503.2 595.0,507.5 620.0,511.2 645.0,514.0 670.0,513.8 695.0,512.5 707.5,514.2 722.5,514.2 732.5,515.0 745.0,510.0 760.0,504.5 782.5,500.5 795.0,497.0 807.5,493.0 820.0,488.8 832.5,482.5 840.0,476.2 855.0,463.8 870.0,457.5 890.0,435.0 905.0,416.2 920.0,401.2 930.0,387.5 945.0,372.5 960.0,365.0 970.0,361.2 980.0,355.0 995.0,347.5 1005.0,337.5 1015.0,328.8 1025.0,321.2 1036.5,298.0 1054.0,271.8 1066.5,258.0 1084.0,231.8 1096.5,223.0 1109.0,217.5 1124.0,210.0 1134.0,206.8 1141.5,200.0 1151.5,200.5 1166.5,185.5 1176.5,177.5 1184.0,164.2 1196.5,153.0 1206.5,140.0 1216.5,130.5 1229.0,131.0 1239.0,133.5 1246.5,139.2 1254.0,150.5 1261.5,164.2 1271.5,181.8 1284.0,196.8 1296.5,220.5 1309.0,235.5 1321.5,253.0 1334.0,270.5 1339.0,275.0" fill="none" stroke="#f00" stroke-width="1" shape-rendering="crispEdges"/><polyline points="11.4,649.1 15.1,653.8 20.1,656.3 25.2,656.3 33.5,651.8 38.6,651.3 41.9,652.4 46.9,652.4 52.0,650.4 61.2,650.4 67.1,653.3 78.0,653.3 82.2,650.4 88.9,650.4 94.7,652.4 109.0,652.4 117.4,649.1 137.5,648.7 142.5,647.4 150.9,646.7 164.3,645.9 167.7,645.1 181.9,645.1 189.5,647.9 193.7,648.2 197.9,646.6 200.0,646.2 222.5,646.2 230.0,644.5 245.0,647.0 262.5,648.5 277.5,647.0 287.5,645.5 305.0,646.2 322.5,642.0 335.0,645.5 350.0,646.2 370.0,646.2 385.0,649.5 400.0,647.5 407.5,644.2 425.0,643.0 450.0,636.8 467.5,632.5 477.5,631.2 497.5,630.5 510.0,632.0 520.0,631.2 537.5,632.5 547.5,629.5 570.0,628.0 595.0,624.5 620.0,623.8 642.5,622.8 657.5,624.0 680.0,627.5 695.0,630.5 705.0,628.2 717.5,628.2 727.5,626.2 737.5,631.2 750.0,635.0 755.0,632.5 760.0,634.2 770.0,633.2 785.0,632.0 795.0,633.8 807.5,637.5 825.0,639.5 835.0,643.8 840.0,648.0 852.5,655.8 861.2,658.8 866.2,657.0 871.2,659.5 875.0,666.2 885.0,672.5 893.8,677.0 903.8,675.0 911.2,679.2 925.0,680.8 935.0,686.8 940.0,687.5 946.2,690.0 957.5,687.0 967.5,683.0 972.5,685.5 977.5,684.5 985.0,688.2 992.5,687.0 1003.8,692.5 1015.0,693.8 1021.2,690.8 1032.5,693.8 1038.8,697.5 1042.5,696.2 1055.0,697.0 1063.8,692.0 1075.0,692.0 1082.5,695.0 1090.0,690.0 1097.5,687.5 1100.0,683.4 1116.5,675.1 1123.4,675.1 1128.9,670.2 1137.2,670.2 1141.9,673.2 1150.9,665.5 1159.2,665.5 1165.3,662.2 1168.0,664.1 1172.1,662.2 1177.1,664.1 1186.7,671.8 1190.9,671.0 1195.0,673.2 1199.1,673.2 1204.6,677.0 1214.3,677.0 1217.0,678.4 1225.3,673.7 1234.9,671.0 1243.2,668.2 1251.4,658.6 1256.9,649.0 1265.2,639.3 1272.1,628.3 1283.1,618.7 1288.6,609.0 1299.6,595.3 1306.5,591.1 1314.8,578.8 1323.0,573.2 1328.5,566.9 1339.5,561.1" fill="none" stroke="#f00" stroke-width="1" shape-rendering="crispEdges"/><polyline points="11.4,506.1 20.1,518.7 24.3,526.2 28.5,528.2 33.5,529.2 48.6,529.2 52.0,531.3 55.3,530.4 75.5,530.4 82.2,532.4 105.6,532.4 110.7,533.4 115.7,533.4 122.4,535.5 132.5,535.8 144.2,538.3 150.9,538.8 164.3,539.6 171.0,541.3 180.2,542.5 184.4,542.2 189.5,540.5 194.5,541.5 200.0,541.2 225.0,544.2 250.0,547.5 267.5,550.5 287.5,552.0 305.0,551.0 320.0,552.5 337.5,550.0 360.0,547.0 385.0,541.8 400.0,540.0 410.0,541.2 427.5,539.5 440.0,540.8 462.5,540.5 477.5,538.2 500.0,533.8 512.5,531.2 520.0,530.0 535.0,527.5 552.5,528.2 577.5,528.8 602.5,532.0 627.5,534.5 652.5,536.8 670.0,536.2 695.0,536.8 712.5,537.5 727.5,538.0 737.5,536.2 750.0,532.5 760.0,529.5 770.0,528.8 782.5,526.2 795.0,523.8 807.5,521.2 820.0,518.2 832.5,514.2 840.0,511.2 852.5,506.2 865.0,499.5 880.0,490.0 890.0,480.0 905.0,467.5 920.0,456.2 935.0,442.5 947.5,433.8 960.0,429.5 970.0,425.0 985.0,420.0 1000.0,412.5 1015.0,402.5 1027.5,392.5 1040.0,375.0 1052.5,357.5 1065.0,345.0 1075.0,333.8 1085.0,322.5 1100.0,313.8 1115.0,306.2 1127.5,301.2 1140.0,295.0 1144.0,293.0 1156.5,292.2 1164.0,284.2 1176.5,275.5 1184.0,266.8 1196.5,256.8 1206.5,246.8 1216.5,240.0 1229.0,238.0 1239.0,240.5 1251.5,248.0 1259.0,258.0 1271.5,269.2 1284.0,280.5 1296.5,296.8 1309.0,306.8 1326.5,320.5 1338.8,332.5" fill="none" stroke="#00f" stroke-width="1" shape-rendering="crispEdges"/><polyline points="11.4,600.1 16.8,606.8 24.3,611.4 30.2,611.4 33.5,610.5 48.6,610.5 52.0,609.5 62.0,609.5 67.1,611.4 78.8,611.4 82.2,610.3 93.1,610.3 95.6,611.4 109.8,611.4 112.3,610.5 164.3,610.5 166.8,609.5 173.5,609.5 176.1,610.3 187.0,610.3 189.5,611.4 198.7,611.4 200.0,610.5 215.0,611.2 227.5,610.0 245.0,613.0 262.5,615.5 272.5,614.0 278.8,615.0 287.5,613.2 305.0,614.2 325.0,612.0 337.5,613.8 362.5,612.5 390.0,612.5 407.5,609.5 430.0,607.5 450.0,603.8 470.0,600.0 477.5,599.2 495.0,597.8 510.0,598.2 520.0,597.5 540.0,597.0 552.5,595.0 570.0,593.8 595.0,592.0 620.0,593.0 645.0,593.5 662.5,594.2 682.5,597.5 697.5,598.2 710.0,597.0 727.5,596.2 745.0,599.5 760.0,598.0 782.5,596.2 795.0,595.8 807.5,597.5 822.5,597.5 835.0,600.0 840.0,601.2 852.5,605.0 860.0,605.0 866.2,603.2 877.5,607.5 885.0,609.5 893.8,609.2 902.5,605.8 915.0,604.2 925.0,602.2 935.0,603.2 947.5,602.0 957.5,599.5 967.5,595.5 972.5,597.0 985.0,596.0 993.8,594.0 1003.8,596.2 1015.0,593.8 1025.0,589.5 1038.8,588.2 1050.0,582.5 1057.5,579.5 1067.5,573.8 1077.5,570.0 1085.0,567.5 1095.0,561.2 1100.0,557.6 1113.8,550.4 1128.9,543.8 1141.3,544.3 1149.6,538.8 1166.1,532.5 1174.3,530.0 1185.4,532.5 1199.1,529.2 1204.1,531.1 1210.1,528.4 1218.4,527.8 1226.7,524.2 1241.8,523.1 1256.9,514.6 1265.2,512.1 1273.5,505.8 1281.7,503.6 1290.0,498.9 1303.7,494.0 1314.8,487.9 1325.8,484.3 1339.5,483.2" fill="none" stroke="#00f" stroke-width="1" shape-rendering="crispEdges"/><polyline points="11.4,546.4 20.1,556.4 24.3,563.3 33.5,564.3 48.6,564.8 58.7,565.3 80.5,565.6 93.9,566.3 107.3,567.0 129.1,567.5 139.2,569.3 154.3,569.8 174.4,571.0 189.5,571.3 200.0,571.2 225.0,573.8 245.0,575.8 262.5,578.0 285.0,578.2 305.0,578.8 327.5,578.2 350.0,576.2 375.0,573.0 400.0,570.5 425.0,569.0 450.0,567.5 475.0,564.0 500.0,560.8 520.0,558.8 535.0,556.8 557.5,556.8 582.5,556.8 607.5,557.5 632.5,559.5 657.5,561.2 682.5,562.0 707.5,562.5 725.0,563.5 737.5,563.2 750.0,561.2 770.0,558.0 795.0,555.0 820.0,552.5 837.5,550.8 840.0,550.8 852.5,547.0 865.0,543.8 877.5,541.8 890.0,537.0 902.5,528.8 915.0,522.5 927.5,515.0 940.0,508.0 955.0,503.8 970.0,498.8 985.0,495.5 1005.0,490.0 1025.0,477.5 1040.0,467.5 1052.5,456.2 1065.0,445.0 1082.5,429.5 1100.0,419.5 1125.0,407.0 1152.5,398.8 1170.0,387.5 1185.0,380.0 1200.0,372.5 1212.5,365.0 1220.0,362.0 1230.0,361.2 1240.0,362.5 1252.5,365.0 1265.0,370.8 1275.0,373.0 1287.5,377.5 1305.0,384.5 1320.0,388.8 1340.0,397.2" fill="none" stroke="#000" stroke-width="1" shape-rendering="crispEdges"/><path d="M10 541h3v8h-3zM11 542v6h1v-6zM42 555h3v3h-3zM43 556v1h1v-1zM55 571h3v4h-3zM56 572v2h1v-2zM68 579h3v6h-3zM69 580v4h1v-4zM73 577h3v4h-3zM74 578v2h1v-2zM82 572h3v6h-3zM83 573v4h1v-4zM86 569h3v4h-3zM87 570v2h1v-2zM157 577h3v4h-3zM158 578v2h1v-2zM175 577h3v4h-3zM176 578v2h1v-2zM184 575h3v5h-3zM185 576v3h1v-3zM188 567h3v9h-3zM189 568v7h1v-7zM215 576h3v6h-3zM216 577v4h1v-4zM220 573h3v4h-3zM221 574v2h1v-2zM224 568h3v6h-3zM225 569v4h1v-4zM228 566h3v4h-3zM229 567v2h1v-2zM264 581h3v6h-3zM265 582v4h1v-4zM273 579h3v4h-3zM274 580v2h1v-2zM277 574h3v4h-3zM278 575v2h1v-2zM295 571h3v8h-3zM296 572v6h1v-6zM309 570h3v3h-3zM310 571v1h1v-1zM326 562h3v8h-3zM327 563v6h1v-6zM331 554h3v8h-3zM332 555v6h1v-6zM353 562h3v3h-3zM354 563v1h1v-1zM357 557h3v4h-3zM358 558v2h1v-2zM366 555h3v3h-3zM367 556v1h1v-1zM375 555h3v6h-3zM376 556v4h1v-4zM380 549h3v6h-3zM381 550v4h1v-4zM420 563h3v5h-3zM421 564v3h1v-3zM424 559h3v3h-3zM425 560v1h1v-1zM438 564h3v3h-3zM439 565v1h1v-1zM446 563h3v4h-3zM447 564v2h1v-2zM451 558h3v4h-3zM452 559v2h1v-2zM473 553h3v5h-3zM474 554v3h1v-3zM482 552h3v6h-3zM483 553v4h1v-4zM491 552h3v3h-3zM492 553v1h1v-1zM500 551h3v4h-3zM501 552v2h1v-2zM504 543h3v9h-3zM505 544v7h1v-7zM513 539h3v6h-3zM514 540v4h1v-4zM562 559h3v7h-3zM563 560v5h1v-5zM647 571h3v8h-3zM648 572v6h1v-6zM664 566h3v5h-3zM665 567v3h1v-3zM678 572h3v4h-3zM679 573v2h1v-2zM682 566h3v5h-3zM683 567v3h1v-3zM687 558h3v8h-3zM688 559v6h1v-6zM696 554h3v6h-3zM697 555v4h1v-4zM718 552h3v3h-3zM719 553v1h1v-1zM727 550h3v5h-3zM728 551v3h1v-3zM731 539h3v10h-3zM732 540v8h1v-8zM736 517h3v20h-3zM737 518v18h1v-18zM745 519h3v8h-3zM746 520v6h1v-6zM749 515h3v6h-3zM750 516v4h1v-4zM798 540h3v9h-3zM799 541v7h1v-7zM802 534h3v6h-3zM803 535v4h1v-4zM807 532h3v3h-3zM808 533v1h1v-1zM825 542h3v9h-3zM826 543v7h1v-7zM838 547h3v10h-3zM839 548v8h1v-8zM847 538h3v8h-3zM848 539v6h1v-6zM851 520h3v18h-3zM852 521v16h1v-16zM856 520h3v3h-3zM857 521v1h1v-1zM860 511h3v11h-3zM861 512v9h1v-9zM874 508h3v23h-3zM875 509v21h1v-21zM878 496h3v11h-3zM879 497v9h1v-9zM882 478h3v24h-3zM883 479v22h1v-22zM887 467h3v16h-3zM888 468v14h1v-14zM891 442h3v29h-3zM892 443v27h1v-27zM896 438h3v4h-3zM897 439v2h1v-2zM909 434h3v16h-3zM910 435v14h1v-14zM918 441h3v12h-3zM919 442v10h1v-10zM923 439h3v3h-3zM924 440v1h1v-1zM927 408h3v29h-3zM928 409v27h1v-27zM949 471h3v3h-3zM950 472v1h1v-1zM954 449h3v19h-3zM955 450v17h1v-17zM963 447h3v8h-3zM964 448v6h1v-6zM967 443h3v4h-3zM968 444v2h1v-2zM985 468h3v10h-3zM986 469v8h1v-8zM989 468h3v4h-3zM990 469v2h1v-2zM998 450h3v18h-3zM999 451v16h1v-16zM1007 447h3v13h-3zM1008 448v11h1v-11zM1012 416h3v19h-3zM1013 417v17h1v-17zM1025 390h3v15h-3zM1026 391v13h1v-13zM1029 390h3v7h-3zM1030 391v5h1v-5zM1034 355h3v21h-3zM1035 356v19h1v-19zM1038 329h3v24h-3zM1039 330v22h1v-22zM1052 382h3v10h-3zM1053 383v8h1v-8zM1056 361h3v19h-3zM1057 362v17h1v-17zM1065 365h3v12h-3zM1066 366v10h1v-10zM1069 327h3v40h-3zM1070 328v38h1v-38zM1092 375h3v3h-3zM1093 376v1h1v-1zM1096 362h3v14h-3zM1097 363v12h1v-12zM1101 358h3v6h-3zM1102 359v4h1v-4zM1105 352h3v11h-3zM1106 353v9h1v-9zM1109 338h3v12h-3zM1110 339v10h1v-10zM1132 359h3v9h-3zM1133 360v7h1v-7zM1141 339h3v37h-3zM1142 340v35h1v-35zM1154 325h3v30h-3zM1155 326v28h1v-28zM1158 293h3v18h-3zM1159 294v16h1v-16zM1172 354h3v17h-3zM1173 355v15h1v-15zM1176 315h3v35h-3zM1177 316v33h1v-33zM1185 357h3v5h-3zM1186 358v3h1v-3zM1189 342h3v18h-3zM1190 343v16h1v-16zM1198 334h3v20h-3zM1199 335v18h1v-18zM1207 340h3v4h-3zM1208 341v2h1v-2zM1225 412h3v12h-3zM1226 413v10h1v-10zM1238 434h3v4h-3zM1239 435v2h1v-2z" fill="#f00" fill-rule="evenodd" shape-rendering="crispEdges"/><path d="M11 539h1v2h-1zM11 549h1v6h-1zM38 557h1v6h-1zM37 559h3v2h-3zM43 550h1v5h-1zM56 570h1v1h-1zM56 575h1v2h-1zM69 578h1v1h-1zM69 585h1v2h-1zM74 576h1v1h-1zM74 581h1v1h-1zM78 577h1v2h-1zM77 578h3v1h-3zM87 568h1v1h-1zM105 577h1v5h-1zM104 579h3v1h-3zM109 577h1v5h-1zM108 579h3v1h-3zM114 575h1v4h-1zM113 576h3v2h-3zM118 572h1v4h-1zM117 575h3v1h-3zM123 574h1v3h-1zM122 574h3v1h-3zM132 574h1v4h-1zM131 577h3v1h-3zM145 582h1v2h-1zM144 583h3v1h-3zM149 582h1v1h-1zM148 582h3v1h-3zM176 576h1v1h-1zM176 581h1v1h-1zM185 574h1v1h-1zM185 580h1v2h-1zM189 558h1v9h-1zM189 576h1v1h-1zM198 574h1v8h-1zM197 575h3v2h-3zM207 582h1v2h-1zM206 583h3v1h-3zM216 570h1v6h-1zM221 577h1v3h-1zM225 563h1v5h-1zM229 565h1v1h-1zM229 570h1v1h-1zM261 585h1v8h-1zM260 587h3v2h-3zM265 580h1v1h-1zM265 587h1v1h-1zM269 579h1v4h-1zM268 582h3v1h-3zM274 583h1v2h-1zM278 573h1v1h-1zM278 578h1v2h-1zM287 576h1v4h-1zM286 577h3v1h-3zM296 570h1v1h-1zM296 579h1v1h-1zM305 570h1v5h-1zM304 573h3v1h-3zM310 567h1v3h-1zM310 573h1v2h-1zM318 568h1v5h-1zM317 571h3v1h-3zM323 569h1v2h-1zM322 570h3v1h-3zM327 561h1v1h-1zM332 553h1v1h-1zM332 562h1v1h-1zM341 558h1v7h-1zM340 561h3v1h-3zM354 560h1v2h-1zM354 565h1v1h-1zM358 555h1v2h-1zM358 561h1v2h-1zM367 553h1v2h-1zM367 558h1v2h-1zM376 554h1v1h-1zM376 561h1v3h-1zM381 555h1v1h-1zM394 551h1v5h-1zM393 553h3v2h-3zM425 558h1v1h-1zM425 562h1v1h-1zM447 567h1v1h-1zM452 557h1v1h-1zM452 562h1v1h-1zM456 554h1v6h-1zM455 556h3v2h-3zM483 544h1v8h-1zM492 545h1v7h-1zM492 555h1v1h-1zM501 550h1v1h-1zM501 555h1v1h-1zM514 538h1v1h-1zM514 545h1v2h-1zM519 534h1v6h-1zM518 536h3v2h-3zM532 547h1v3h-1zM531 549h3v1h-3zM541 557h1v4h-1zM540 558h3v1h-3zM550 557h1v5h-1zM549 560h3v1h-3zM559 564h1v4h-1zM558 566h3v1h-3zM563 558h1v1h-1zM568 557h1v5h-1zM567 558h3v1h-3zM576 558h1v5h-1zM575 560h3v2h-3zM581 558h1v4h-1zM580 560h3v1h-3zM585 558h1v4h-1zM584 560h3v1h-3zM594 565h1v5h-1zM593 567h3v2h-3zM599 566h1v3h-1zM598 566h3v2h-3zM612 574h1v4h-1zM611 574h3v1h-3zM617 571h1v2h-1zM616 572h3v1h-3zM621 571h1v4h-1zM620 572h3v1h-3zM639 579h1v3h-1zM638 579h3v2h-3zM643 576h1v3h-1zM642 576h3v2h-3zM652 568h1v4h-1zM651 570h3v1h-3zM657 570h1v3h-1zM656 571h3v2h-3zM665 571h1v3h-1zM679 571h1v1h-1zM679 576h1v1h-1zM683 565h1v1h-1zM683 571h1v1h-1zM688 566h1v1h-1zM697 553h1v1h-1zM701 555h1v4h-1zM700 555h3v1h-3zM719 555h1v2h-1zM728 549h1v1h-1zM732 536h1v3h-1zM737 537h1v3h-1zM746 507h1v12h-1zM746 527h1v1h-1zM750 510h1v5h-1zM763 525h1v4h-1zM762 527h3v2h-3zM768 524h1v5h-1zM767 526h3v1h-3zM786 537h1v4h-1zM785 539h3v1h-3zM794 545h1v7h-1zM793 546h3v2h-3zM799 539h1v1h-1zM799 549h1v6h-1zM803 531h1v3h-1zM803 540h1v2h-1zM808 524h1v8h-1zM808 535h1v3h-1zM826 539h1v3h-1zM835 555h1v20h-1zM834 559h3v1h-3zM839 542h1v5h-1zM839 557h1v4h-1zM843 527h1v18h-1zM842 543h3v2h-3zM848 530h1v8h-1zM848 546h1v3h-1zM852 517h1v3h-1zM852 538h1v2h-1zM857 518h1v2h-1zM857 523h1v1h-1zM861 502h1v9h-1zM861 522h1v3h-1zM875 506h1v2h-1zM875 531h1v11h-1zM879 485h1v11h-1zM879 507h1v6h-1zM883 471h1v7h-1zM883 502h1v1h-1zM888 466h1v1h-1zM888 483h1v6h-1zM892 439h1v3h-1zM892 471h1v1h-1zM897 432h1v6h-1zM897 442h1v6h-1zM901 438h1v12h-1zM900 441h3v1h-3zM910 420h1v14h-1zM910 450h1v5h-1zM919 436h1v5h-1zM919 453h1v2h-1zM924 433h1v6h-1zM924 442h1v7h-1zM928 407h1v1h-1zM928 437h1v5h-1zM937 437h1v26h-1zM936 448h3v1h-3zM950 465h1v6h-1zM950 474h1v6h-1zM955 446h1v3h-1zM955 468h1v5h-1zM964 443h1v4h-1zM964 455h1v2h-1zM968 441h1v2h-1zM968 447h1v3h-1zM986 465h1v3h-1zM986 478h1v2h-1zM990 463h1v5h-1zM990 472h1v1h-1zM995 464h1v13h-1zM994 468h3v1h-3zM999 445h1v5h-1zM999 468h1v5h-1zM1008 460h1v5h-1zM1013 435h1v1h-1zM1021 410h1v11h-1zM1020 414h3v2h-3zM1026 384h1v6h-1zM1026 405h1v7h-1zM1030 373h1v17h-1zM1030 397h1v5h-1zM1035 354h1v1h-1zM1035 376h1v6h-1zM1039 315h1v14h-1zM1039 353h1v13h-1zM1044 318h1v25h-1zM1043 336h3v1h-3zM1053 359h1v23h-1zM1053 392h1v8h-1zM1057 346h1v15h-1zM1066 351h1v14h-1zM1066 377h1v4h-1zM1070 367h1v6h-1zM1093 369h1v6h-1zM1093 378h1v24h-1zM1097 347h1v15h-1zM1097 376h1v7h-1zM1102 351h1v7h-1zM1102 364h1v7h-1zM1106 346h1v6h-1zM1106 363h1v11h-1zM1110 331h1v7h-1zM1110 350h1v10h-1zM1119 331h1v19h-1zM1118 346h3v2h-3zM1128 363h1v19h-1zM1127 370h3v2h-3zM1133 351h1v8h-1zM1133 368h1v7h-1zM1142 376h1v2h-1zM1155 355h1v4h-1zM1159 311h1v7h-1zM1173 349h1v5h-1zM1173 371h1v6h-1zM1177 350h1v2h-1zM1186 339h1v18h-1zM1186 362h1v13h-1zM1190 332h1v10h-1zM1190 360h1v3h-1zM1199 324h1v10h-1zM1199 354h1v5h-1zM1208 333h1v7h-1zM1208 344h1v10h-1zM1226 424h1v1h-1zM1239 429h1v5h-1z" fill="#f00" shape-rendering="crispEdges"/><path d="M16 543h1v5h-1zM15 544h3v4h-3zM20 547h1v6h-1zM19 549h3v2h-3zM25 546h1v8h-1zM24 551h3v3h-3zM29 553h1v6h-1zM28 553h3v4h-3zM34 552h1v9h-1zM33 554h3v6h-3zM47 555h1v12h-1zM46 555h3v10h-3zM51 566h1v9h-1zM50 567h3v7h-3zM60 572h1v4h-1zM59 573h3v3h-3zM65 575h1v13h-1zM64 575h3v9h-3zM91 569h1v8h-1zM90 569h3v7h-3zM96 561h1v13h-1zM95 570h3v3h-3zM100 576h1v9h-1zM99 576h3v5h-3zM127 574h1v3h-1zM126 575h3v2h-3zM136 576h1v4h-1zM135 579h3v1h-3zM140 579h1v5h-1zM139 580h3v2h-3zM154 580h1v3h-1zM153 580h3v1h-3zM163 577h1v1h-1zM162 577h3v1h-3zM167 577h1v4h-1zM166 579h3v1h-3zM172 578h1v6h-1zM171 578h3v3h-3zM180 578h1v2h-1zM179 579h3v1h-3zM194 570h1v5h-1zM193 572h3v3h-3zM203 579h1v5h-1zM202 579h3v3h-3zM212 583h1v4h-1zM211 583h3v1h-3zM234 567h1v5h-1zM233 567h3v5h-3zM238 572h1v11h-1zM237 573h3v7h-3zM243 582h1v4h-1zM242 582h3v1h-3zM247 578h1v8h-1zM246 582h3v1h-3zM252 583h1v8h-1zM251 583h3v1h-3zM256 586h1v4h-1zM255 587h3v2h-3zM283 577h1v3h-1zM282 577h3v1h-3zM292 577h1v2h-1zM291 578h3v1h-3zM301 572h1v3h-1zM300 572h3v1h-3zM314 573h1v2h-1zM313 573h3v1h-3zM336 553h1v10h-1zM335 554h3v8h-3zM345 562h1v2h-1zM344 562h3v1h-3zM350 561h1v6h-1zM349 562h3v2h-3zM363 553h1v7h-1zM362 557h3v1h-3zM372 554h1v9h-1zM371 555h3v7h-3zM385 547h1v9h-1zM384 550h3v4h-3zM390 552h1v4h-1zM389 553h3v2h-3zM398 552h1v5h-1zM397 552h3v2h-3zM403 554h1v9h-1zM402 554h3v8h-3zM407 561h1v4h-1zM406 562h3v1h-3zM412 560h1v8h-1zM411 562h3v6h-3zM416 566h1v3h-1zM415 567h3v1h-3zM430 559h1v5h-1zM429 559h3v2h-3zM434 564h1v4h-1zM433 564h3v2h-3zM443 563h1v3h-1zM442 563h3v3h-3zM461 551h1v5h-1zM460 551h3v3h-3zM465 554h1v3h-1zM464 554h3v1h-3zM470 555h1v5h-1zM469 555h3v3h-3zM479 552h1v5h-1zM478 552h3v5h-3zM487 551h1v4h-1zM486 552h3v2h-3zM496 550h1v7h-1zM495 552h3v3h-3zM510 535h1v13h-1zM509 544h3v1h-3zM523 535h1v13h-1zM522 537h3v9h-3zM528 544h1v6h-1zM527 544h3v5h-3zM536 548h1v12h-1zM535 549h3v8h-3zM545 557h1v2h-1zM544 558h3v1h-3zM554 560h1v7h-1zM553 560h3v6h-3zM572 558h1v4h-1zM571 558h3v1h-3zM590 562h1v7h-1zM589 562h3v7h-3zM603 565h1v7h-1zM602 566h3v5h-3zM608 571h1v4h-1zM607 571h3v2h-3zM625 570h1v5h-1zM624 571h3v4h-3zM630 576h1v2h-1zM629 576h3v1h-3zM634 577h1v4h-1zM633 577h3v3h-3zM661 568h1v5h-1zM660 569h3v3h-3zM670 566h1v3h-1zM669 567h3v2h-3zM674 570h1v6h-1zM673 570h3v6h-3zM692 556h1v6h-1zM691 557h3v2h-3zM706 555h1v5h-1zM705 555h3v2h-3zM710 541h1v14h-1zM709 543h3v7h-3zM714 553h1v4h-1zM713 553h3v4h-3zM723 550h1v6h-1zM722 552h3v3h-3zM741 511h1v16h-1zM740 512h3v12h-3zM754 514h1v5h-1zM753 514h3v2h-3zM759 516h1v14h-1zM758 516h3v13h-3zM772 524h1v6h-1zM771 524h3v4h-3zM777 528h1v6h-1zM776 528h3v6h-3zM781 535h1v8h-1zM780 535h3v6h-3zM790 540h1v8h-1zM789 540h3v6h-3zM812 534h1v6h-1zM811 535h3v1h-3zM817 535h1v8h-1zM816 535h3v3h-3zM821 526h1v14h-1zM820 537h3v2h-3zM830 544h1v14h-1zM829 545h3v13h-3zM866 514h1v5h-1zM865 514h3v1h-3zM870 509h1v17h-1zM869 517h3v9h-3zM906 438h1v17h-1zM905 446h3v3h-3zM915 434h1v16h-1zM914 435h3v13h-3zM932 405h1v35h-1zM931 407h3v33h-3zM941 452h1v10h-1zM940 454h3v3h-3zM946 459h1v26h-1zM945 461h3v17h-3zM959 432h1v20h-1zM958 449h3v1h-3zM972 444h1v27h-1zM971 444h3v24h-3zM977 462h1v14h-1zM976 469h3v1h-3zM981 467h1v18h-1zM980 469h3v7h-3zM1004 452h1v26h-1zM1003 457h3v16h-3zM1017 393h1v32h-1zM1016 402h3v3h-3zM1048 342h1v34h-1zM1047 345h3v31h-3zM1061 364h1v16h-1zM1060 367h3v3h-3zM1075 302h1v31h-1zM1074 311h3v13h-3zM1079 305h1v36h-1zM1078 329h3v5h-3zM1084 344h1v31h-1zM1083 345h3v30h-3zM1088 364h1v20h-1zM1087 381h3v1h-3zM1115 330h1v18h-1zM1114 338h3v6h-3zM1124 346h1v27h-1zM1123 346h3v26h-3zM1137 361h1v27h-1zM1136 361h3v12h-3zM1146 341h1v28h-1zM1145 345h3v22h-3zM1150 348h1v18h-1zM1149 360h3v3h-3zM1164 309h1v29h-1zM1163 309h3v29h-3zM1168 332h1v36h-1zM1167 344h3v20h-3zM1182 306h1v49h-1zM1181 306h3v48h-3zM1195 335h1v34h-1zM1194 345h3v10h-3zM1204 330h1v45h-1zM1203 331h3v5h-3zM1213 343h1v26h-1zM1212 343h3v20h-3zM1217 361h1v40h-1zM1216 367h3v34h-3zM1222 410h1v15h-1zM1221 410h3v10h-3zM1231 408h1v16h-1zM1230 412h3v10h-3zM1235 418h1v18h-1zM1234 424h3v12h-3zM1244 431h1v7h-1zM1243 435h3v1h-3z" fill="#008000" shape-rendering="crispEdges"/><path d="M10 769h3v29h-3zM11 770v27h1v-27zM37 792h3v6h-3zM38 793v4h1v-4zM42 788h3v10h-3zM43 789v8h1v-8zM55 792h3v6h-3zM56 793v4h1v-4zM68 792h3v6h-3zM69 793v4h1v-4zM73 793h3v5h-3zM74 794v3h1v-3zM77 794h3v4h-3zM78 795v2h1v-2zM82 793h3v5h-3zM83 794v3h1v-3zM86 792h3v6h-3zM87 793v4h1v-4zM104 792h3v6h-3zM105 793v4h1v-4zM108 794h3v4h-3zM109 795v2h1v-2zM113 792h3v6h-3zM114 793v4h1v-4zM117 792h3v6h-3zM118 793v4h1v-4zM122 793h3v5h-3zM123 794v3h1v-3zM131 793h3v5h-3zM132 794v3h1v-3zM144 797h3v1h-3zM148 796h3v2h-3zM157 794h3v4h-3zM158 795v2h1v-2zM175 790h3v8h-3zM176 791v6h1v-6zM184 789h3v9h-3zM185 790v7h1v-7zM188 773h3v25h-3zM189 774v23h1v-23zM197 790h3v8h-3zM198 791v6h1v-6zM206 794h3v4h-3zM207 795v2h1v-2zM215 779h3v19h-3zM216 780v17h1v-17zM220 786h3v12h-3zM221 787v10h1v-10zM224 776h3v22h-3zM225 777v20h1v-20zM228 784h3v14h-3zM229 785v12h1v-12zM260 794h3v4h-3zM261 795v2h1v-2zM264 790h3v8h-3zM265 791v6h1v-6zM268 784h3v14h-3zM269 785v12h1v-12zM273 782h3v16h-3zM274 783v14h1v-14zM277 782h3v16h-3zM278 783v14h1v-14zM286 788h3v10h-3zM287 789v8h1v-8zM295 782h3v16h-3zM296 783v14h1v-14zM304 788h3v10h-3zM305 789v8h1v-8zM309 785h3v13h-3zM310 786v11h1v-11zM317 785h3v13h-3zM318 786v11h1v-11zM322 790h3v8h-3zM323 791v6h1v-6zM326 778h3v20h-3zM327 779v18h1v-18zM331 773h3v25h-3zM332 774v23h1v-23zM340 782h3v16h-3zM341 783v14h1v-14zM353 789h3v9h-3zM354 790v7h1v-7zM357 781h3v17h-3zM358 782v15h1v-15zM366 786h3v12h-3zM367 787v10h1v-10zM375 786h3v12h-3zM376 787v10h1v-10zM380 776h3v22h-3zM381 777v20h1v-20zM393 788h3v10h-3zM394 789v8h1v-8zM420 791h3v7h-3zM421 792v5h1v-5zM424 788h3v10h-3zM425 789v8h1v-8zM438 791h3v7h-3zM439 792v5h1v-5zM446 793h3v5h-3zM447 794v3h1v-3zM451 786h3v12h-3zM452 787v10h1v-10zM455 785h3v13h-3zM456 786v11h1v-11zM473 785h3v13h-3zM474 786v11h1v-11zM482 769h3v29h-3zM483 770v27h1v-27zM491 773h3v25h-3zM492 774v23h1v-23zM500 784h3v14h-3zM501 785v12h1v-12zM504 770h3v28h-3zM505 771v26h1v-26zM513 777h3v21h-3zM514 778v19h1v-19zM518 777h3v21h-3zM519 778v19h1v-19zM531 792h3v6h-3zM532 793v4h1v-4zM540 792h3v6h-3zM541 793v4h1v-4zM549 792h3v6h-3zM550 793v4h1v-4zM558 794h3v4h-3zM559 795v2h1v-2zM562 789h3v9h-3zM563 790v7h1v-7zM567 789h3v9h-3zM568 790v7h1v-7zM575 793h3v5h-3zM576 794v3h1v-3zM580 792h3v6h-3zM581 793v4h1v-4zM584 792h3v6h-3zM585 793v4h1v-4zM593 793h3v5h-3zM594 794v3h1v-3zM598 794h3v4h-3zM599 795v2h1v-2zM611 794h3v4h-3zM612 795v2h1v-2zM616 795h3v3h-3zM617 796v1h1v-1zM620 793h3v5h-3zM621 794v3h1v-3zM638 795h3v3h-3zM639 796v1h1v-1zM642 795h3v3h-3zM643 796v1h1v-1zM647 788h3v10h-3zM648 789v8h1v-8zM651 791h3v7h-3zM652 792v5h1v-5zM656 788h3v10h-3zM657 789v8h1v-8zM664 786h3v12h-3zM665 787v10h1v-10zM678 793h3v5h-3zM679 794v3h1v-3zM682 789h3v9h-3zM683 790v7h1v-7zM687 778h3v20h-3zM688 779v18h1v-18zM696 778h3v20h-3zM697 779v18h1v-18zM700 783h3v15h-3zM701 784v13h1v-13zM718 787h3v11h-3zM719 788v9h1v-9zM727 783h3v15h-3zM728 784v13h1v-13zM731 772h3v26h-3zM732 773v24h1v-24zM736 754h3v44h-3zM737 755v42h1v-42zM745 762h3v36h-3zM746 763v34h1v-34zM749 771h3v27h-3zM750 772v25h1v-25zM762 784h3v14h-3zM763 785v12h1v-12zM767 784h3v14h-3zM768 785v12h1v-12zM785 790h3v8h-3zM786 791v6h1v-6zM793 791h3v7h-3zM794 792v5h1v-5zM798 784h3v14h-3zM799 785v12h1v-12zM802 777h3v21h-3zM803 778v19h1v-19zM807 776h3v22h-3zM808 777v20h1v-20zM825 781h3v17h-3zM826 782v15h1v-15zM834 781h3v17h-3zM835 782v15h1v-15zM838 775h3v23h-3zM839 776v21h1v-21zM842 770h3v28h-3zM843 771v26h1v-26zM847 773h3v25h-3zM848 774v23h1v-23zM851 750h3v48h-3zM852 751v46h1v-46zM856 759h3v39h-3zM857 760v37h1v-37zM860 750h3v48h-3zM861 751v46h1v-46zM874 748h3v50h-3zM875 749v48h1v-48zM878 728h3v70h-3zM879 729v68h1v-68zM882 721h3v77h-3zM883 722v75h1v-75zM887 742h3v56h-3zM888 743v54h1v-54zM891 736h3v62h-3zM892 737v60h1v-60zM896 742h3v56h-3zM897 743v54h1v-54zM900 757h3v41h-3zM901 758v39h1v-39zM909 732h3v66h-3zM910 733v64h1v-64zM918 765h3v33h-3zM919 766v31h1v-31zM923 762h3v36h-3zM924 763v34h1v-34zM927 731h3v67h-3zM928 732v65h1v-65zM936 751h3v47h-3zM937 752v45h1v-45zM949 778h3v20h-3zM950 779v18h1v-18zM954 765h3v33h-3zM955 766v31h1v-31zM963 781h3v17h-3zM964 782v15h1v-15zM967 772h3v26h-3zM968 773v24h1v-24zM985 779h3v19h-3zM986 780v17h1v-17zM989 778h3v20h-3zM990 779v18h1v-18zM994 774h3v24h-3zM995 775v22h1v-22zM998 755h3v43h-3zM999 756v41h1v-41zM1007 767h3v31h-3zM1008 768v29h1v-29zM1012 766h3v32h-3zM1013 767v30h1v-30zM1020 738h3v60h-3zM1021 739v58h1v-58zM1025 707h3v91h-3zM1026 708v89h1v-89zM1029 730h3v68h-3zM1030 731v66h1v-66zM1034 734h3v64h-3zM1035 735v62h1v-62zM1038 705h3v93h-3zM1039 706v91h1v-91zM1043 740h3v58h-3zM1044 741v56h1v-56zM1052 754h3v44h-3zM1053 755v42h1v-42zM1056 741h3v57h-3zM1057 742v55h1v-55zM1065 747h3v51h-3zM1066 748v49h1v-49zM1069 708h3v90h-3zM1070 709v88h1v-88zM1092 757h3v41h-3zM1093 758v39h1v-39zM1096 752h3v46h-3zM1097 753v44h1v-44zM1101 765h3v33h-3zM1102 766v31h1v-31zM1105 766h3v32h-3zM1106 767v30h1v-30zM1109 756h3v42h-3zM1110 757v40h1v-40zM1118 774h3v24h-3zM1119 775v22h1v-22zM1127 778h3v20h-3zM1128 779v18h1v-18zM1132 766h3v32h-3zM1133 767v30h1v-30zM1141 752h3v46h-3zM1142 753v44h1v-44zM1154 741h3v57h-3zM1155 742v55h1v-55zM1158 725h3v73h-3zM1159 726v71h1v-71zM1172 775h3v23h-3zM1173 776v21h1v-21zM1176 760h3v38h-3zM1177 761v36h1v-36zM1185 767h3v31h-3zM1186 768v29h1v-29zM1189 765h3v33h-3zM1190 766v31h1v-31zM1198 761h3v37h-3zM1199 762v35h1v-35zM1207 773h3v25h-3zM1208 774v23h1v-23zM1225 778h3v20h-3zM1226 779v18h1v-18zM1238 781h3v17h-3zM1239 782v15h1v-15z" fill="#f00" fill-rule="evenodd" shape-rendering="crispEdges"/><path d="M15 782h3v16h-3zM19 778h3v20h-3zM24 786h3v12h-3zM28 782h3v16h-3zM33 787h3v11h-3zM46 788h3v10h-3zM50 790h3v8h-3zM59 794h3v4h-3zM64 789h3v9h-3zM90 792h3v6h-3zM95 781h3v17h-3zM99 788h3v10h-3zM126 793h3v5h-3zM135 794h3v4h-3zM139 794h3v4h-3zM153 795h3v3h-3zM162 795h3v3h-3zM166 794h3v4h-3zM171 794h3v4h-3zM179 793h3v5h-3zM193 786h3v12h-3zM202 792h3v6h-3zM211 794h3v4h-3zM233 791h3v7h-3zM237 789h3v9h-3zM242 794h3v4h-3zM246 792h3v6h-3zM251 791h3v7h-3zM255 793h3v5h-3zM282 786h3v12h-3zM291 790h3v8h-3zM300 785h3v13h-3zM313 788h3v10h-3zM335 779h3v19h-3zM344 788h3v10h-3zM349 790h3v8h-3zM362 782h3v16h-3zM371 788h3v10h-3zM384 780h3v18h-3zM389 787h3v11h-3zM397 783h3v15h-3zM402 782h3v16h-3zM406 789h3v9h-3zM411 786h3v12h-3zM415 793h3v5h-3zM429 790h3v8h-3zM433 790h3v8h-3zM442 792h3v6h-3zM460 781h3v17h-3zM464 790h3v8h-3zM469 790h3v8h-3zM478 786h3v12h-3zM486 777h3v21h-3zM495 784h3v14h-3zM509 764h3v34h-3zM522 777h3v21h-3zM527 787h3v11h-3zM535 785h3v13h-3zM544 794h3v4h-3zM553 790h3v8h-3zM571 792h3v6h-3zM589 788h3v10h-3zM602 793h3v5h-3zM607 795h3v3h-3zM624 790h3v8h-3zM629 794h3v4h-3zM633 795h3v3h-3zM660 787h3v11h-3zM669 790h3v8h-3zM673 791h3v7h-3zM691 780h3v18h-3zM705 784h3v14h-3zM709 778h3v20h-3zM713 786h3v12h-3zM722 781h3v17h-3zM740 754h3v44h-3zM753 780h3v18h-3zM758 775h3v23h-3zM771 783h3v15h-3zM776 787h3v11h-3zM780 783h3v15h-3zM789 790h3v8h-3zM811 786h3v12h-3zM816 789h3v9h-3zM820 768h3v30h-3zM829 783h3v15h-3zM865 768h3v30h-3zM869 770h3v28h-3zM905 754h3v44h-3zM914 756h3v42h-3zM931 723h3v75h-3zM940 782h3v16h-3zM945 770h3v28h-3zM958 762h3v36h-3zM971 761h3v37h-3zM976 780h3v18h-3zM980 775h3v23h-3zM1003 769h3v29h-3zM1016 698h3v100h-3zM1047 741h3v57h-3zM1060 750h3v48h-3zM1074 717h3v81h-3zM1078 744h3v54h-3zM1083 746h3v52h-3zM1087 768h3v30h-3zM1114 768h3v30h-3zM1123 773h3v25h-3zM1136 770h3v28h-3zM1145 761h3v37h-3zM1149 766h3v32h-3zM1163 752h3v46h-3zM1167 761h3v37h-3zM1181 755h3v43h-3zM1194 774h3v24h-3zM1203 757h3v41h-3zM1212 776h3v22h-3zM1216 759h3v39h-3zM1221 772h3v26h-3zM1230 777h3v21h-3zM1234 772h3v26h-3zM1243 796h3v2h-3z" fill="#008000" shape-rendering="crispEdges"/><ellipse cx="747" cy="522" rx="25.8" ry="21.5" fill="none" stroke="#f00" stroke-width="1" shape-rendering="crispEdges"/><ellipse cx="926.4" cy="420.2" rx="30" ry="29.4" fill="none" stroke="#f00" stroke-width="1" shape-rendering="crispEdges"/><ellipse cx="1069" cy="331.2" rx="32.8" ry="33.1" fill="none" stroke="#f00" stroke-width="1" shape-rendering="crispEdges"/><path d="M260.500 593.500L280.500 588.500" stroke="#00f" shape-rendering="crispEdges"/><text x="280.5" y="591" font-size="12" fill="#00f" font-family="Liberation Sans" textLength="37" lengthAdjust="spacingAndGlyphs" >8.0300</text><path d="M1159.500 292L1179.500 297.500" stroke="#00f" shape-rendering="crispEdges"/><text x="1180" y="308.3" font-size="12" fill="#00f" font-family="Liberation Sans" textLength="44.5" lengthAdjust="spacingAndGlyphs" >24.1000</text><path d="M478.500 112V798" stroke="#000" stroke-dasharray="3 3" shape-rendering="crispEdges"/><rect x="0" y="798" width="1339" height="2" fill="#808080"/><rect x="0" y="800" width="1339" height="35" fill="#ECE9D8"/><text x="-3.4" y="815.2" font-size="13" fill="#008000" font-family="Liberation Sans" >99.50</text><path d="M33 806h9l-4.500 8z" fill="#008000"/><text x="44.75" y="815.2" font-size="13" fill="#008000" font-family="Liberation Sans" textLength="119.8" lengthAdjust="spacingAndGlyphs" >-6.63 -0.31% 203.41</text><text x="164.5" y="816" font-size="12" fill="#800000" stroke="#800000" stroke-width="0.26" font-family="Liberation Sans, Noto Sans CJK SC, sans-serif">亿</text><circle cx="200.800" cy="810" r="7.500" fill="#f00"/><text x="194.8" y="814.5" font-size="12" fill="#ff0" stroke="#ff0" stroke-width="0.26" font-family="Liberation Sans, Noto Sans CJK SC, sans-serif">深</text><text x="213.3" y="815.2" font-size="13" fill="#008000" font-family="Liberation Sans" textLength="45" lengthAdjust="spacingAndGlyphs" >8107.67</text><path d="M264.300 806h9l-4.500 8z" fill="#008000"/><text x="276" y="815.2" font-size="13" fill="#008000" font-family="Liberation Sans" textLength="124.5" lengthAdjust="spacingAndGlyphs" >-47.73 -0.59% 237.58</text><text x="401" y="816" font-size="12" fill="#800000" stroke="#800000" stroke-width="0.26" font-family="Liberation Sans, Noto Sans CJK SC, sans-serif">亿</text><rect x="409" y="801" width="820" height="19" fill="#fff"/><rect x="409" y="801" width="820" height="2" fill="#ACA899"/><rect x="409" y="801" width="1" height="18" fill="#ACA899"/><rect x="410" y="803" width="818" height="1" fill="#716F64"/><rect x="410" y="803" width="1" height="15" fill="#716F64"/><rect x="411" y="818" width="818" height="1" fill="#ECE9D8"/><clipPath id="tk"><rect x="411" y="804" width="801" height="14"/></clipPath><g clip-path="url(#tk)"><g font-family="Liberation Sans, Noto Sans CJK SC, sans-serif" font-size="14" fill="#f00" stroke="#f00" stroke-width="0.11"><text x="717.5" y="819.3" textLength="84" lengthAdjust="spacingAndGlyphs">楼市冷热不均</text><text x="808.5" y="819.3" textLength="84" lengthAdjust="spacingAndGlyphs">调整预期强烈</text><text x="918.7" y="819.3" textLength="112" lengthAdjust="spacingAndGlyphs">动车组启二次招标</text><text x="1037.7" y="819.3" textLength="140" lengthAdjust="spacingAndGlyphs">年底铁路投资再掀高潮</text></g><path d="M1203.500 818.500l4-4M1203 813.500l2-.5 2-2 1-2.500" stroke="#f00" fill="none" stroke-width="1.200"/></g><defs><linearGradient id="sp" x1="0" y1="0" x2="0" y2="1"><stop offset="0" stop-color="#C4D3F8"/><stop offset="1" stop-color="#9FB5EC"/></linearGradient></defs><rect x="1212" y="805" width="16" height="6" rx="1" fill="url(#sp)"/><rect x="1212" y="812" width="16" height="6" rx="1" fill="url(#sp)"/><rect x="1218" y="807" width="3" height="1" fill="#4D6185"/><rect x="1218" y="814" width="3" height="1" fill="#4D6185"/><path d="M1237.500 806l-4 11M1237.500 806l4 11M1232 817.500h11M1234.500 813.500h6M1235.500 810.500h4" stroke="#000080" fill="none" stroke-width="1.100"/><circle cx="1237.500" cy="805" r="1.300" fill="none" stroke="#f00" stroke-width="0.800"/><text x="1249.5" y="813.7" font-size="13" fill="#000" font-family="Liberation Sans" textLength="64" lengthAdjust="spacingAndGlyphs" >SH1A0001,</text><text x="1314" y="816" font-size="12.5" fill="#000" stroke="#000" stroke-width="0.27" font-family="Liberation Sans, Noto Sans CJK SC, sans-serif" textLength="25" lengthAdjust="spacingAndGlyphs">上证</text><rect x="0" y="800" width="409" height="1" fill="#fff"/><rect x="1229" y="800" width="110" height="1" fill="#fff"/><rect x="409" y="800" width="820" height="1" fill="#fff"/><rect x="0" y="821" width="1339" height="2" fill="#ACA899"/><rect x="0" y="823" width="1339" height="1" fill="#fff"/><rect x="0" y="826" width="1339" height="1" fill="#C5C2B2"/><clipPath id="bt"><rect x="0" y="827" width="1339" height="8"/></clipPath><g clip-path="url(#bt)"><text x="-6" y="838.3" font-size="12" fill="#000" stroke="#000" stroke-width="0.26" font-family="Liberation Sans, Noto Sans CJK SC, sans-serif">二</text><text x="9.00" y="837.50" font-size="11.5" text-anchor="middle" fill="#000" font-family="Liberation Serif" stroke="#000" stroke-width="0.18">]</text><text x="18" y="838.3" font-size="12" fill="#000" stroke="#000" stroke-width="0.26" font-family="Liberation Sans, Noto Sans CJK SC, sans-serif" textLength="24" lengthAdjust="spacingAndGlyphs">时间</text><text x="45.00" y="837.50" font-size="11.5" text-anchor="middle" fill="#000" font-family="Liberation Serif" stroke="#000" stroke-width="0.18">:</text><text x="51.00" y="837.50" font-size="11.5" text-anchor="middle" fill="#000" font-family="Liberation Serif" stroke="#000" stroke-width="0.18" textLength="5.4" lengthAdjust="spacingAndGlyphs">2</text><text x="57.00" y="837.50" font-size="11.5" text-anchor="middle" fill="#000" font-family="Liberation Serif" stroke="#000" stroke-width="0.18" textLength="5.4" lengthAdjust="spacingAndGlyphs">0</text><text x="63.00" y="837.50" font-size="11.5" text-anchor="middle" fill="#000" font-family="Liberation Serif" stroke="#000" stroke-width="0.18" textLength="5.4" lengthAdjust="spacingAndGlyphs">1</text><text x="69.00" y="837.50" font-size="11.5" text-anchor="middle" fill="#000" font-family="Liberation Serif" stroke="#000" stroke-width="0.18" textLength="5.4" lengthAdjust="spacingAndGlyphs">3</text><text x="75.00" y="837.50" font-size="11.5" text-anchor="middle" fill="#000" font-family="Liberation Serif" stroke="#000" stroke-width="0.18" textLength="5.4" lengthAdjust="spacingAndGlyphs">0</text><text x="81.00" y="837.50" font-size="11.5" text-anchor="middle" fill="#000" font-family="Liberation Serif" stroke="#000" stroke-width="0.18" textLength="5.4" lengthAdjust="spacingAndGlyphs">2</text><text x="87.00" y="837.50" font-size="11.5" text-anchor="middle" fill="#000" font-family="Liberation Serif" stroke="#000" stroke-width="0.18" textLength="5.4" lengthAdjust="spacingAndGlyphs">2</text><text x="93.00" y="837.50" font-size="11.5" text-anchor="middle" fill="#000" font-family="Liberation Serif" stroke="#000" stroke-width="0.18" textLength="5.4" lengthAdjust="spacingAndGlyphs">1</text><text x="102" y="838.3" font-size="12" fill="#000" stroke="#000" stroke-width="0.26" font-family="Liberation Sans, Noto Sans CJK SC, sans-serif">开</text><text x="117.00" y="837.50" font-size="11.5" text-anchor="middle" fill="#000" font-family="Liberation Serif" stroke="#000" stroke-width="0.18">:</text><text x="123.00" y="837.50" font-size="11.5" text-anchor="middle" fill="#000" font-family="Liberation Serif" stroke="#000" stroke-width="0.18" textLength="5.4" lengthAdjust="spacingAndGlyphs">1</text><text x="129.00" y="837.50" font-size="11.5" text-anchor="middle" fill="#000" font-family="Liberation Serif" stroke="#000" stroke-width="0.18" textLength="5.4" lengthAdjust="spacingAndGlyphs">0</text><text x="135.00" y="837.50" font-size="11.5" text-anchor="middle" fill="#000" font-family="Liberation Serif" stroke="#000" stroke-width="0.18">.</text><text x="141.00" y="837.50" font-size="11.5" text-anchor="middle" fill="#000" font-family="Liberation Serif" stroke="#000" stroke-width="0.18" textLength="5.4" lengthAdjust="spacingAndGlyphs">2</text><text x="147.00" y="837.50" font-size="11.5" text-anchor="middle" fill="#000" font-family="Liberation Serif" stroke="#000" stroke-width="0.18" textLength="5.4" lengthAdjust="spacingAndGlyphs">4</text><text x="153.00" y="837.50" font-size="11.5" text-anchor="middle" fill="#000" font-family="Liberation Serif" stroke="#000" stroke-width="0.18" textLength="5.4" lengthAdjust="spacingAndGlyphs">0</text><text x="159.00" y="837.50" font-size="11.5" text-anchor="middle" fill="#000" font-family="Liberation Serif" stroke="#000" stroke-width="0.18" textLength="5.4" lengthAdjust="spacingAndGlyphs">0</text><text x="168" y="838.3" font-size="12" fill="#000" stroke="#000" stroke-width="0.26" font-family="Liberation Sans, Noto Sans CJK SC, sans-serif">高</text><text x="183.00" y="837.50" font-size="11.5" text-anchor="middle" fill="#000" font-family="Liberation Serif" stroke="#000" stroke-width="0.18">:</text><text x="189.00" y="837.50" font-size="11.5" text-anchor="middle" fill="#000" font-family="Liberation Serif" stroke="#000" stroke-width="0.18" textLength="5.4" lengthAdjust="spacingAndGlyphs">1</text><text x="195.00" y="837.50" font-size="11.5" text-anchor="middle" fill="#000" font-family="Liberation Serif" stroke="#000" stroke-width="0.18" textLength="5.4" lengthAdjust="spacingAndGlyphs">0</text><text x="201.00" y="837.50" font-size="11.5" text-anchor="middle" fill="#000" font-family="Liberation Serif" stroke="#000" stroke-width="0.18">.</text><text x="207.00" y="837.50" font-size="11.5" text-anchor="middle" fill="#000" font-family="Liberation Serif" stroke="#000" stroke-width="0.18" textLength="5.4" lengthAdjust="spacingAndGlyphs">2</text><text x="213.00" y="837.50" font-size="11.5" text-anchor="middle" fill="#000" font-family="Liberation Serif" stroke="#000" stroke-width="0.18" textLength="5.4" lengthAdjust="spacingAndGlyphs">4</text><text x="219.00" y="837.50" font-size="11.5" text-anchor="middle" fill="#000" font-family="Liberation Serif" stroke="#000" stroke-width="0.18" textLength="5.4" lengthAdjust="spacingAndGlyphs">0</text><text x="225.00" y="837.50" font-size="11.5" text-anchor="middle" fill="#000" font-family="Liberation Serif" stroke="#000" stroke-width="0.18" textLength="5.4" lengthAdjust="spacingAndGlyphs">0</text><text x="234" y="838.3" font-size="12" fill="#000" stroke="#000" stroke-width="0.26" font-family="Liberation Sans, Noto Sans CJK SC, sans-serif">低</text><text x="249.00" y="837.50" font-size="11.5" text-anchor="middle" fill="#000" font-family="Liberation Serif" stroke="#000" stroke-width="0.18">:</text><text x="255.00" y="837.50" font-size="11.5" text-anchor="middle" fill="#000" font-family="Liberation Serif" stroke="#000" stroke-width="0.18" textLength="5.4" lengthAdjust="spacingAndGlyphs">9</text><text x="261.00" y="837.50" font-size="11.5" text-anchor="middle" fill="#000" font-family="Liberation Serif" stroke="#000" stroke-width="0.18">.</text><text x="267.00" y="837.50" font-size="11.5" text-anchor="middle" fill="#000" font-family="Liberation Serif" stroke="#000" stroke-width="0.18" textLength="5.4" lengthAdjust="spacingAndGlyphs">9</text><text x="273.00" y="837.50" font-size="11.5" text-anchor="middle" fill="#000" font-family="Liberation Serif" stroke="#000" stroke-width="0.18" textLength="5.4" lengthAdjust="spacingAndGlyphs">1</text><text x="279.00" y="837.50" font-size="11.5" text-anchor="middle" fill="#000" font-family="Liberation Serif" stroke="#000" stroke-width="0.18" textLength="5.4" lengthAdjust="spacingAndGlyphs">0</text><text x="285.00" y="837.50" font-size="11.5" text-anchor="middle" fill="#000" font-family="Liberation Serif" stroke="#000" stroke-width="0.18" textLength="5.4" lengthAdjust="spacingAndGlyphs">0</text><text x="294" y="838.3" font-size="12" fill="#000" stroke="#000" stroke-width="0.26" font-family="Liberation Sans, Noto Sans CJK SC, sans-serif">收</text><text x="309.00" y="837.50" font-size="11.5" text-anchor="middle" fill="#000" font-family="Liberation Serif" stroke="#000" stroke-width="0.18">:</text><text x="315.00" y="837.50" font-size="11.5" text-anchor="middle" fill="#000" font-family="Liberation Serif" stroke="#000" stroke-width="0.18" textLength="5.4" lengthAdjust="spacingAndGlyphs">9</text><text x="321.00" y="837.50" font-size="11.5" text-anchor="middle" fill="#000" font-family="Liberation Serif" stroke="#000" stroke-width="0.18">.</text><text x="327.00" y="837.50" font-size="11.5" text-anchor="middle" fill="#000" font-family="Liberation Serif" stroke="#000" stroke-width="0.18" textLength="5.4" lengthAdjust="spacingAndGlyphs">9</text><text x="333.00" y="837.50" font-size="11.5" text-anchor="middle" fill="#000" font-family="Liberation Serif" stroke="#000" stroke-width="0.18" textLength="5.4" lengthAdjust="spacingAndGlyphs">8</text><text x="339.00" y="837.50" font-size="11.5" text-anchor="middle" fill="#000" font-family="Liberation Serif" stroke="#000" stroke-width="0.18" textLength="5.4" lengthAdjust="spacingAndGlyphs">0</text><text x="345.00" y="837.50" font-size="11.5" text-anchor="middle" fill="#000" font-family="Liberation Serif" stroke="#000" stroke-width="0.18" textLength="5.4" lengthAdjust="spacingAndGlyphs">0</text><text x="354" y="838.3" font-size="12" fill="#000" stroke="#000" stroke-width="0.26" font-family="Liberation Sans, Noto Sans CJK SC, sans-serif">手</text><text x="369.00" y="837.50" font-size="11.5" text-anchor="middle" fill="#000" font-family="Liberation Serif" stroke="#000" stroke-width="0.18">:</text><text x="375.00" y="837.50" font-size="11.5" text-anchor="middle" fill="#000" font-family="Liberation Serif" stroke="#000" stroke-width="0.18" textLength="5.4" lengthAdjust="spacingAndGlyphs">1</text><text x="381.00" y="837.50" font-size="11.5" text-anchor="middle" fill="#000" font-family="Liberation Serif" stroke="#000" stroke-width="0.18" textLength="5.4" lengthAdjust="spacingAndGlyphs">7</text><text x="387.00" y="837.50" font-size="11.5" text-anchor="middle" fill="#000" font-family="Liberation Serif" stroke="#000" stroke-width="0.18" textLength="5.4" lengthAdjust="spacingAndGlyphs">0</text><text x="393.00" y="837.50" font-size="11.5" text-anchor="middle" fill="#000" font-family="Liberation Serif" stroke="#000" stroke-width="0.18" textLength="5.4" lengthAdjust="spacingAndGlyphs">2</text><text x="399.00" y="837.50" font-size="11.5" text-anchor="middle" fill="#000" font-family="Liberation Serif" stroke="#000" stroke-width="0.18" textLength="5.4" lengthAdjust="spacingAndGlyphs">0</text><text x="408" y="838.3" font-size="12" fill="#000" stroke="#000" stroke-width="0.26" font-family="Liberation Sans, Noto Sans CJK SC, sans-serif">额</text><text x="423.00" y="837.50" font-size="11.5" text-anchor="middle" fill="#000" font-family="Liberation Serif" stroke="#000" stroke-width="0.18">:</text><text x="429.00" y="837.50" font-size="11.5" text-anchor="middle" fill="#000" font-family="Liberation Serif" stroke="#000" stroke-width="0.18" textLength="5.4" lengthAdjust="spacingAndGlyphs">1</text><text x="435.00" y="837.50" font-size="11.5" text-anchor="middle" fill="#000" font-family="Liberation Serif" stroke="#000" stroke-width="0.18" textLength="5.4" lengthAdjust="spacingAndGlyphs">7</text><text x="441.00" y="837.50" font-size="11.5" text-anchor="middle" fill="#000" font-family="Liberation Serif" stroke="#000" stroke-width="0.18" textLength="5.4" lengthAdjust="spacingAndGlyphs">0</text><text x="447.00" y="837.50" font-size="11.5" text-anchor="middle" fill="#000" font-family="Liberation Serif" stroke="#000" stroke-width="0.18" textLength="5.4" lengthAdjust="spacingAndGlyphs">9</text><text x="453.00" y="837.50" font-size="11.5" text-anchor="middle" fill="#000" font-family="Liberation Serif" stroke="#000" stroke-width="0.18" textLength="5.4" lengthAdjust="spacingAndGlyphs">2</text><text x="459.00" y="837.50" font-size="11.5" text-anchor="middle" fill="#000" font-family="Liberation Serif" stroke="#000" stroke-width="0.18" textLength="5.4" lengthAdjust="spacingAndGlyphs">2</text><text x="465.00" y="837.50" font-size="11.5" text-anchor="middle" fill="#000" font-family="Liberation Serif" stroke="#000" stroke-width="0.18" textLength="5.4" lengthAdjust="spacingAndGlyphs">1</text><text x="471.00" y="837.50" font-size="11.5" text-anchor="middle" fill="#000" font-family="Liberation Serif" stroke="#000" stroke-width="0.18" textLength="5.4" lengthAdjust="spacingAndGlyphs">2</text><text x="477.00" y="837.50" font-size="11.5" text-anchor="middle" fill="#000" font-family="Liberation Serif" stroke="#000" stroke-width="0.18">.</text><text x="483.00" y="837.50" font-size="11.5" text-anchor="middle" fill="#000" font-family="Liberation Serif" stroke="#000" stroke-width="0.18" textLength="5.4" lengthAdjust="spacingAndGlyphs">0</text><text x="489.00" y="837.50" font-size="11.5" text-anchor="middle" fill="#000" font-family="Liberation Serif" stroke="#000" stroke-width="0.18" textLength="5.4" lengthAdjust="spacingAndGlyphs">0</text><text x="498" y="838.3" font-size="12" fill="#000" stroke="#000" stroke-width="0.26" font-family="Liberation Sans, Noto Sans CJK SC, sans-serif">换</text><text x="513.00" y="837.50" font-size="11.5" text-anchor="middle" fill="#000" font-family="Liberation Serif" stroke="#000" stroke-width="0.18">:</text><text x="519.00" y="837.50" font-size="11.5" text-anchor="middle" fill="#000" font-family="Liberation Serif" stroke="#000" stroke-width="0.18" textLength="5.4" lengthAdjust="spacingAndGlyphs">0</text><text x="525.00" y="837.50" font-size="11.5" text-anchor="middle" fill="#000" font-family="Liberation Serif" stroke="#000" stroke-width="0.18">.</text><text x="531.00" y="837.50" font-size="11.5" text-anchor="middle" fill="#000" font-family="Liberation Serif" stroke="#000" stroke-width="0.18" textLength="5.4" lengthAdjust="spacingAndGlyphs">0</text><text x="537.00" y="837.50" font-size="11.5" text-anchor="middle" fill="#000" font-family="Liberation Serif" stroke="#000" stroke-width="0.18" textLength="5.4" lengthAdjust="spacingAndGlyphs">0</text><text x="546" y="838.3" font-size="12" fill="#000" stroke="#000" stroke-width="0.26" font-family="Liberation Sans, Noto Sans CJK SC, sans-serif">涨</text><text x="561.00" y="837.50" font-size="11.5" text-anchor="middle" fill="#000" font-family="Liberation Serif" stroke="#000" stroke-width="0.18">:</text><text x="567.00" y="837.50" font-size="11.5" text-anchor="middle" fill="#000" font-family="Liberation Serif" stroke="#000" stroke-width="0.18">-</text><text x="573.00" y="837.50" font-size="11.5" text-anchor="middle" fill="#000" font-family="Liberation Serif" stroke="#000" stroke-width="0.18" textLength="5.4" lengthAdjust="spacingAndGlyphs">2</text><text x="579.00" y="837.50" font-size="11.5" text-anchor="middle" fill="#000" font-family="Liberation Serif" stroke="#000" stroke-width="0.18">.</text><text x="585.00" y="837.50" font-size="11.5" text-anchor="middle" fill="#000" font-family="Liberation Serif" stroke="#000" stroke-width="0.18" textLength="5.4" lengthAdjust="spacingAndGlyphs">1</text><text x="591.00" y="837.50" font-size="11.5" text-anchor="middle" fill="#000" font-family="Liberation Serif" stroke="#000" stroke-width="0.18" textLength="5.4" lengthAdjust="spacingAndGlyphs">6</text><text x="600" y="838.3" font-size="12" fill="#000" stroke="#000" stroke-width="0.26" font-family="Liberation Sans, Noto Sans CJK SC, sans-serif">盘</text><text x="615.00" y="837.50" font-size="11.5" text-anchor="middle" fill="#000" font-family="Liberation Serif" stroke="#000" stroke-width="0.18">:</text><text x="621.00" y="837.50" font-size="11.5" text-anchor="middle" fill="#000" font-family="Liberation Serif" stroke="#000" stroke-width="0.18" textLength="5.4" lengthAdjust="spacingAndGlyphs">0</text><text x="630" y="838.3" font-size="12" fill="#000" stroke="#000" stroke-width="0.26" font-family="Liberation Sans, Noto Sans CJK SC, sans-serif">标</text><text x="645.00" y="837.50" font-size="11.5" text-anchor="middle" fill="#000" font-family="Liberation Serif" stroke="#000" stroke-width="0.18">:</text><text x="651.00" y="837.50" font-size="11.5" text-anchor="middle" fill="#000" font-family="Liberation Serif" stroke="#000" stroke-width="0.18" textLength="5.4" lengthAdjust="spacingAndGlyphs">6</text><text x="657.00" y="837.50" font-size="11.5" text-anchor="middle" fill="#000" font-family="Liberation Serif" stroke="#000" stroke-width="0.18">.</text><text x="663.00" y="837.50" font-size="11.5" text-anchor="middle" fill="#000" font-family="Liberation Serif" stroke="#000" stroke-width="0.18" textLength="5.4" lengthAdjust="spacingAndGlyphs">1</text><text x="669.00" y="837.50" font-size="11.5" text-anchor="middle" fill="#000" font-family="Liberation Serif" stroke="#000" stroke-width="0.18" textLength="5.4" lengthAdjust="spacingAndGlyphs">3</text><text x="675.00" y="837.50" font-size="11.5" text-anchor="middle" fill="#000" font-family="Liberation Serif" stroke="#000" stroke-width="0.18" textLength="5.4" lengthAdjust="spacingAndGlyphs">5</text><text x="681.00" y="837.50" font-size="11.5" text-anchor="middle" fill="#000" font-family="Liberation Serif" stroke="#000" stroke-width="0.18" textLength="5.4" lengthAdjust="spacingAndGlyphs">8</text></g></svg></body></html>
